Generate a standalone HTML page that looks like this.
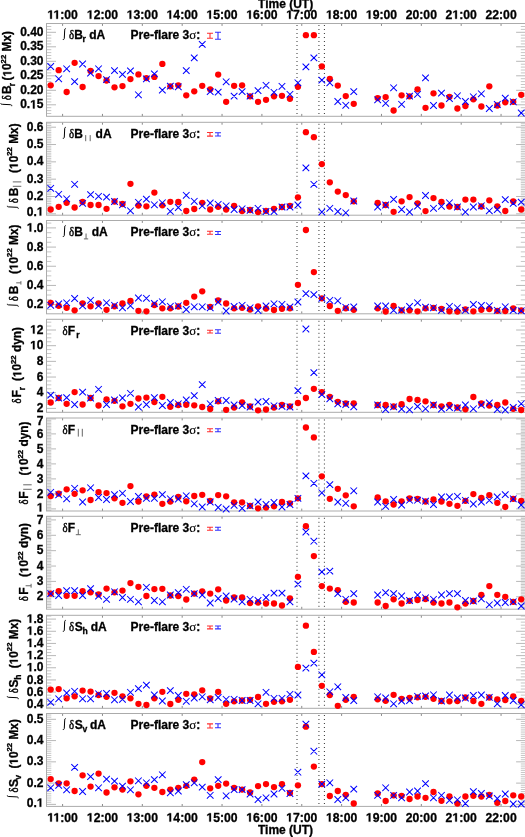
<!DOCTYPE html>
<html><head><meta charset="utf-8"><style>
html,body{margin:0;padding:0;background:#fff;width:525px;height:837px;overflow:hidden}
svg{display:block;font-family:"Liberation Sans",sans-serif;will-change:transform}
</style></head><body><svg width="525" height="837" viewBox="0 0 525 837" fill="#000"><rect x="0" y="0" width="525" height="837" fill="#fff"/><path d="M46.50 113.50h4.8M525.60 113.50h-4.8M46.50 110.60h4.8M525.60 110.60h-4.8M46.50 107.70h4.8M525.60 107.70h-4.8M46.50 101.90h4.8M525.60 101.90h-4.8M46.50 99.00h4.8M525.60 99.00h-4.8M46.50 96.10h4.8M525.60 96.10h-4.8M46.50 93.20h4.8M525.60 93.20h-4.8M46.50 87.40h4.8M525.60 87.40h-4.8M46.50 84.50h4.8M525.60 84.50h-4.8M46.50 81.60h4.8M525.60 81.60h-4.8M46.50 78.70h4.8M525.60 78.70h-4.8M46.50 72.90h4.8M525.60 72.90h-4.8M46.50 70.00h4.8M525.60 70.00h-4.8M46.50 67.10h4.8M525.60 67.10h-4.8M46.50 64.20h4.8M525.60 64.20h-4.8M46.50 58.40h4.8M525.60 58.40h-4.8M46.50 55.50h4.8M525.60 55.50h-4.8M46.50 52.60h4.8M525.60 52.60h-4.8M46.50 49.70h4.8M525.60 49.70h-4.8M46.50 43.90h4.8M525.60 43.90h-4.8M46.50 41.00h4.8M525.60 41.00h-4.8M46.50 38.10h4.8M525.60 38.10h-4.8M46.50 35.20h4.8M525.60 35.20h-4.8M46.50 29.40h4.8M525.60 29.40h-4.8M46.50 26.50h4.8M525.60 26.50h-4.8" stroke="#c0c0c0" stroke-width="0.9" fill="none"/><path d="M46.50 104.80h9.5M525.60 104.80h-9.5M46.50 90.30h9.5M525.60 90.30h-9.5M46.50 75.80h9.5M525.60 75.80h-9.5M46.50 61.30h9.5M525.60 61.30h-9.5M46.50 46.80h9.5M525.60 46.80h-9.5M46.50 32.30h9.5M525.60 32.30h-9.5" stroke="#b0b0b0" stroke-width="0.9" fill="none"/><path d="M62.60 23.50v2.4M62.60 116.30v-2.4M102.46 23.50v2.4M102.46 116.30v-2.4M142.32 23.50v2.4M142.32 116.30v-2.4M182.18 23.50v2.4M182.18 116.30v-2.4M222.04 23.50v2.4M222.04 116.30v-2.4M261.90 23.50v2.4M261.90 116.30v-2.4M301.76 23.50v2.4M301.76 116.30v-2.4M341.62 23.50v2.4M341.62 116.30v-2.4M381.48 23.50v2.4M381.48 116.30v-2.4M421.34 23.50v2.4M421.34 116.30v-2.4M461.20 23.50v2.4M461.20 116.30v-2.4M501.06 23.50v2.4M501.06 116.30v-2.4" stroke="#888" stroke-width="1" fill="none"/><rect x="46.50" y="23.50" width="479.10" height="92.80" fill="none" stroke="#ababab" stroke-width="1"/><g font-family="&quot;Liberation Sans&quot;, sans-serif" font-weight="bold" font-size="12.0" stroke="#000" stroke-width="0.30"><text x="20.14 26.82 36.83" y="108.40">0.5</text><path d="M32.95 108.40L32.95 101.54L30.97 102.78L30.97 101.49L33.04 100.14L34.60 100.14L34.60 108.40Z"/><text x="20.14 26.82 30.15 36.83" y="93.90">0.20</text><text x="20.14 26.82 30.15 36.83" y="79.40">0.25</text><text x="20.14 26.82 30.15 36.83" y="64.90">0.30</text><text x="20.14 26.82 30.15 36.83" y="50.40">0.35</text><text x="20.14 26.82 30.15 36.83" y="35.90">0.40</text></g><path d="M297.00 25.00V115.80M318.95 25.00V115.80M324.40 25.00V115.80" stroke="#333" stroke-width="1" stroke-dasharray="1 3" fill="none"/><g fill="#ff0000"><circle cx="50.70" cy="85.30" r="3.15"/><circle cx="58.68" cy="70.20" r="3.15"/><circle cx="66.65" cy="92.00" r="3.15"/><circle cx="74.62" cy="62.80" r="3.15"/><circle cx="82.60" cy="87.00" r="3.15"/><circle cx="90.58" cy="70.90" r="3.15"/><circle cx="98.55" cy="76.10" r="3.15"/><circle cx="106.53" cy="80.50" r="3.15"/><circle cx="114.50" cy="87.30" r="3.15"/><circle cx="122.47" cy="86.10" r="3.15"/><circle cx="130.45" cy="79.10" r="3.15"/><circle cx="138.43" cy="74.40" r="3.15"/><circle cx="146.40" cy="78.10" r="3.15"/><circle cx="154.38" cy="76.90" r="3.15"/><circle cx="162.35" cy="63.90" r="3.15"/><circle cx="170.32" cy="86.30" r="3.15"/><circle cx="178.30" cy="85.30" r="3.15"/><circle cx="186.27" cy="95.30" r="3.15"/><circle cx="194.25" cy="91.30" r="3.15"/><circle cx="202.23" cy="85.80" r="3.15"/><circle cx="210.20" cy="89.30" r="3.15"/><circle cx="218.18" cy="74.60" r="3.15"/><circle cx="226.15" cy="101.80" r="3.15"/><circle cx="234.12" cy="85.80" r="3.15"/><circle cx="242.10" cy="85.30" r="3.15"/><circle cx="250.07" cy="96.30" r="3.15"/><circle cx="258.05" cy="101.80" r="3.15"/><circle cx="266.02" cy="99.80" r="3.15"/><circle cx="274.00" cy="96.30" r="3.15"/><circle cx="281.97" cy="95.80" r="3.15"/><circle cx="289.95" cy="98.80" r="3.15"/><circle cx="297.93" cy="86.80" r="3.15"/><circle cx="305.90" cy="35.20" r="3.15"/><circle cx="313.88" cy="35.20" r="3.15"/><circle cx="321.85" cy="66.40" r="3.15"/><circle cx="329.82" cy="78.90" r="3.15"/><circle cx="337.80" cy="85.60" r="3.15"/><circle cx="345.77" cy="96.10" r="3.15"/><circle cx="353.75" cy="103.80" r="3.15"/><circle cx="377.67" cy="98.10" r="3.15"/><circle cx="385.65" cy="97.10" r="3.15"/><circle cx="393.62" cy="110.50" r="3.15"/><circle cx="401.60" cy="95.30" r="3.15"/><circle cx="409.57" cy="96.30" r="3.15"/><circle cx="417.55" cy="89.30" r="3.15"/><circle cx="425.52" cy="107.80" r="3.15"/><circle cx="433.50" cy="93.30" r="3.15"/><circle cx="441.47" cy="105.50" r="3.15"/><circle cx="449.45" cy="96.80" r="3.15"/><circle cx="457.42" cy="108.50" r="3.15"/><circle cx="465.40" cy="106.00" r="3.15"/><circle cx="473.37" cy="99.30" r="3.15"/><circle cx="481.35" cy="106.50" r="3.15"/><circle cx="489.32" cy="86.30" r="3.15"/><circle cx="497.30" cy="105.50" r="3.15"/><circle cx="505.27" cy="102.30" r="3.15"/><circle cx="513.25" cy="101.80" r="3.15"/><circle cx="521.23" cy="94.80" r="3.15"/></g><path d="M47.40 63.20l6.60 6.60M47.40 69.80l6.60 -6.60M55.38 75.50l6.60 6.60M55.38 82.10l6.60 -6.60M63.35 65.50l6.60 6.60M63.35 72.10l6.60 -6.60M71.33 78.30l6.60 6.60M71.33 84.90l6.60 -6.60M79.30 60.70l6.60 6.60M79.30 67.30l6.60 -6.60M87.28 69.80l6.60 6.60M87.28 76.40l6.60 -6.60M95.25 65.50l6.60 6.60M95.25 72.10l6.60 -6.60M103.23 76.30l6.60 6.60M103.23 82.90l6.60 -6.60M111.20 67.30l6.60 6.60M111.20 73.90l6.60 -6.60M119.17 71.10l6.60 6.60M119.17 77.70l6.60 -6.60M127.15 67.60l6.60 6.60M127.15 74.20l6.60 -6.60M135.12 91.50l6.60 6.60M135.12 98.10l6.60 -6.60M143.10 75.60l6.60 6.60M143.10 82.20l6.60 -6.60M151.07 70.60l6.60 6.60M151.07 77.20l6.60 -6.60M159.05 86.80l6.60 6.60M159.05 93.40l6.60 -6.60M167.02 82.80l6.60 6.60M167.02 89.40l6.60 -6.60M175.00 83.50l6.60 6.60M175.00 90.10l6.60 -6.60M182.97 67.30l6.60 6.60M182.97 73.90l6.60 -6.60M190.95 54.60l6.60 6.60M190.95 61.20l6.60 -6.60M198.93 41.10l6.60 6.60M198.93 47.70l6.60 -6.60M206.90 88.30l6.60 6.60M206.90 94.90l6.60 -6.60M214.88 88.80l6.60 6.60M214.88 95.40l6.60 -6.60M222.85 78.50l6.60 6.60M222.85 85.10l6.60 -6.60M230.82 92.80l6.60 6.60M230.82 99.40l6.60 -6.60M238.80 88.30l6.60 6.60M238.80 94.90l6.60 -6.60M246.77 92.80l6.60 6.60M246.77 99.40l6.60 -6.60M254.75 87.30l6.60 6.60M254.75 93.90l6.60 -6.60M262.72 82.00l6.60 6.60M262.72 88.60l6.60 -6.60M270.70 89.00l6.60 6.60M270.70 95.60l6.60 -6.60M278.67 83.00l6.60 6.60M278.67 89.60l6.60 -6.60M286.65 91.00l6.60 6.60M286.65 97.60l6.60 -6.60M294.62 79.50l6.60 6.60M294.62 86.10l6.60 -6.60M302.60 63.60l6.60 6.60M302.60 70.20l6.60 -6.60M310.57 54.60l6.60 6.60M310.57 61.20l6.60 -6.60M318.55 76.80l6.60 6.60M318.55 83.40l6.60 -6.60M326.52 79.50l6.60 6.60M326.52 86.10l6.60 -6.60M334.50 98.20l6.60 6.60M334.50 104.80l6.60 -6.60M342.47 102.00l6.60 6.60M342.47 108.60l6.60 -6.60M350.45 88.30l6.60 6.60M350.45 94.90l6.60 -6.60M374.37 96.50l6.60 6.60M374.37 103.10l6.60 -6.60M382.35 100.00l6.60 6.60M382.35 106.60l6.60 -6.60M390.32 84.50l6.60 6.60M390.32 91.10l6.60 -6.60M398.30 101.00l6.60 6.60M398.30 107.60l6.60 -6.60M406.27 92.80l6.60 6.60M406.27 99.40l6.60 -6.60M414.25 91.00l6.60 6.60M414.25 97.60l6.60 -6.60M422.22 74.60l6.60 6.60M422.22 81.20l6.60 -6.60M430.20 102.20l6.60 6.60M430.20 108.80l6.60 -6.60M438.17 89.80l6.60 6.60M438.17 96.40l6.60 -6.60M446.15 95.30l6.60 6.60M446.15 101.90l6.60 -6.60M454.12 92.50l6.60 6.60M454.12 99.10l6.60 -6.60M462.10 98.20l6.60 6.60M462.10 104.80l6.60 -6.60M470.07 93.50l6.60 6.60M470.07 100.10l6.60 -6.60M478.05 90.50l6.60 6.60M478.05 97.10l6.60 -6.60M486.02 105.20l6.60 6.60M486.02 111.80l6.60 -6.60M494.00 101.20l6.60 6.60M494.00 107.80l6.60 -6.60M501.97 94.80l6.60 6.60M501.97 101.40l6.60 -6.60M509.95 98.50l6.60 6.60M509.95 105.10l6.60 -6.60M517.93 109.70l6.60 6.60M517.93 116.30l6.60 -6.60" stroke="#0000ff" stroke-width="1.05" fill="none"/><path d="M46.50 212.09h4.8M525.60 212.09h-4.8M46.50 210.36h4.8M525.60 210.36h-4.8M46.50 208.63h4.8M525.60 208.63h-4.8M46.50 206.89h4.8M525.60 206.89h-4.8M46.50 205.16h4.8M525.60 205.16h-4.8M46.50 203.43h4.8M525.60 203.43h-4.8M46.50 201.70h4.8M525.60 201.70h-4.8M46.50 199.97h4.8M525.60 199.97h-4.8M46.50 198.23h4.8M525.60 198.23h-4.8M46.50 194.77h4.8M525.60 194.77h-4.8M46.50 193.03h4.8M525.60 193.03h-4.8M46.50 191.30h4.8M525.60 191.30h-4.8M46.50 189.57h4.8M525.60 189.57h-4.8M46.50 187.84h4.8M525.60 187.84h-4.8M46.50 186.10h4.8M525.60 186.10h-4.8M46.50 184.37h4.8M525.60 184.37h-4.8M46.50 182.64h4.8M525.60 182.64h-4.8M46.50 180.91h4.8M525.60 180.91h-4.8M46.50 177.44h4.8M525.60 177.44h-4.8M46.50 175.71h4.8M525.60 175.71h-4.8M46.50 173.98h4.8M525.60 173.98h-4.8M46.50 172.25h4.8M525.60 172.25h-4.8M46.50 170.51h4.8M525.60 170.51h-4.8M46.50 168.78h4.8M525.60 168.78h-4.8M46.50 167.05h4.8M525.60 167.05h-4.8M46.50 165.31h4.8M525.60 165.31h-4.8M46.50 163.58h4.8M525.60 163.58h-4.8M46.50 160.12h4.8M525.60 160.12h-4.8M46.50 158.38h4.8M525.60 158.38h-4.8M46.50 156.65h4.8M525.60 156.65h-4.8M46.50 154.92h4.8M525.60 154.92h-4.8M46.50 153.19h4.8M525.60 153.19h-4.8M46.50 151.45h4.8M525.60 151.45h-4.8M46.50 149.72h4.8M525.60 149.72h-4.8M46.50 147.99h4.8M525.60 147.99h-4.8M46.50 146.26h4.8M525.60 146.26h-4.8M46.50 142.79h4.8M525.60 142.79h-4.8M46.50 141.06h4.8M525.60 141.06h-4.8M46.50 139.33h4.8M525.60 139.33h-4.8M46.50 137.59h4.8M525.60 137.59h-4.8M46.50 135.86h4.8M525.60 135.86h-4.8M46.50 134.13h4.8M525.60 134.13h-4.8M46.50 132.40h4.8M525.60 132.40h-4.8M46.50 130.66h4.8M525.60 130.66h-4.8M46.50 128.93h4.8M525.60 128.93h-4.8M46.50 125.47h4.8M525.60 125.47h-4.8M46.50 123.73h4.8M525.60 123.73h-4.8" stroke="#c0c0c0" stroke-width="0.9" fill="none"/><path d="M46.50 213.82h9.5M525.60 213.82h-9.5M46.50 196.50h9.5M525.60 196.50h-9.5M46.50 179.18h9.5M525.60 179.18h-9.5M46.50 161.85h9.5M525.60 161.85h-9.5M46.50 144.53h9.5M525.60 144.53h-9.5M46.50 127.20h9.5M525.60 127.20h-9.5" stroke="#b0b0b0" stroke-width="0.9" fill="none"/><path d="M62.60 122.30v2.4M62.60 215.20v-2.4M102.46 122.30v2.4M102.46 215.20v-2.4M142.32 122.30v2.4M142.32 215.20v-2.4M182.18 122.30v2.4M182.18 215.20v-2.4M222.04 122.30v2.4M222.04 215.20v-2.4M261.90 122.30v2.4M261.90 215.20v-2.4M301.76 122.30v2.4M301.76 215.20v-2.4M341.62 122.30v2.4M341.62 215.20v-2.4M381.48 122.30v2.4M381.48 215.20v-2.4M421.34 122.30v2.4M421.34 215.20v-2.4M461.20 122.30v2.4M461.20 215.20v-2.4M501.06 122.30v2.4M501.06 215.20v-2.4" stroke="#888" stroke-width="1" fill="none"/><rect x="46.50" y="122.30" width="479.10" height="92.90" fill="none" stroke="#ababab" stroke-width="1"/><g font-family="&quot;Liberation Sans&quot;, sans-serif" font-weight="bold" font-size="12.0" stroke="#000" stroke-width="0.30"><text x="26.82 33.49" y="215.60">0.</text><path d="M39.63 215.60L39.63 208.74L37.65 209.98L37.65 208.69L39.71 207.34L41.27 207.34L41.27 215.60Z"/><text x="26.82 33.49 36.83" y="200.10">0.2</text><text x="26.82 33.49 36.83" y="182.78">0.3</text><text x="26.82 33.49 36.83" y="165.45">0.4</text><text x="26.82 33.49 36.83" y="148.12">0.5</text><text x="26.82 33.49 36.83" y="130.80">0.6</text></g><path d="M297.00 123.80V214.70M318.95 123.80V214.70M324.40 123.80V214.70" stroke="#333" stroke-width="1" stroke-dasharray="1 3" fill="none"/><g fill="#ff0000"><circle cx="50.70" cy="209.50" r="3.15"/><circle cx="58.68" cy="206.80" r="3.15"/><circle cx="66.65" cy="202.80" r="3.15"/><circle cx="74.62" cy="207.50" r="3.15"/><circle cx="82.60" cy="202.00" r="3.15"/><circle cx="90.58" cy="205.00" r="3.15"/><circle cx="98.55" cy="205.00" r="3.15"/><circle cx="106.53" cy="208.80" r="3.15"/><circle cx="114.50" cy="201.50" r="3.15"/><circle cx="122.47" cy="204.00" r="3.15"/><circle cx="130.45" cy="183.80" r="3.15"/><circle cx="138.43" cy="205.50" r="3.15"/><circle cx="146.40" cy="206.30" r="3.15"/><circle cx="154.38" cy="192.60" r="3.15"/><circle cx="162.35" cy="205.30" r="3.15"/><circle cx="170.32" cy="201.80" r="3.15"/><circle cx="178.30" cy="202.00" r="3.15"/><circle cx="186.27" cy="211.00" r="3.15"/><circle cx="194.25" cy="209.00" r="3.15"/><circle cx="202.23" cy="202.80" r="3.15"/><circle cx="210.20" cy="209.50" r="3.15"/><circle cx="218.18" cy="206.80" r="3.15"/><circle cx="226.15" cy="209.50" r="3.15"/><circle cx="234.12" cy="205.80" r="3.15"/><circle cx="242.10" cy="211.00" r="3.15"/><circle cx="250.07" cy="210.00" r="3.15"/><circle cx="258.05" cy="212.00" r="3.15"/><circle cx="266.02" cy="210.80" r="3.15"/><circle cx="274.00" cy="208.80" r="3.15"/><circle cx="281.97" cy="207.00" r="3.15"/><circle cx="289.95" cy="205.80" r="3.15"/><circle cx="297.93" cy="197.30" r="3.15"/><circle cx="305.90" cy="132.20" r="3.15"/><circle cx="313.88" cy="137.20" r="3.15"/><circle cx="321.85" cy="164.10" r="3.15"/><circle cx="329.82" cy="182.30" r="3.15"/><circle cx="337.80" cy="191.60" r="3.15"/><circle cx="345.77" cy="195.10" r="3.15"/><circle cx="353.75" cy="201.30" r="3.15"/><circle cx="377.67" cy="202.80" r="3.15"/><circle cx="385.65" cy="205.00" r="3.15"/><circle cx="393.62" cy="211.80" r="3.15"/><circle cx="401.60" cy="201.30" r="3.15"/><circle cx="409.57" cy="197.10" r="3.15"/><circle cx="417.55" cy="203.30" r="3.15"/><circle cx="425.52" cy="211.10" r="3.15"/><circle cx="433.50" cy="198.10" r="3.15"/><circle cx="441.47" cy="201.80" r="3.15"/><circle cx="449.45" cy="206.50" r="3.15"/><circle cx="457.42" cy="207.00" r="3.15"/><circle cx="465.40" cy="199.60" r="3.15"/><circle cx="473.37" cy="199.60" r="3.15"/><circle cx="481.35" cy="206.50" r="3.15"/><circle cx="489.32" cy="200.30" r="3.15"/><circle cx="497.30" cy="206.30" r="3.15"/><circle cx="505.27" cy="211.00" r="3.15"/><circle cx="513.25" cy="201.30" r="3.15"/><circle cx="521.23" cy="209.50" r="3.15"/></g><path d="M47.40 185.00l6.60 6.60M47.40 191.60l6.60 -6.60M55.38 191.00l6.60 6.60M55.38 197.60l6.60 -6.60M63.35 195.50l6.60 6.60M63.35 202.10l6.60 -6.60M71.33 181.00l6.60 6.60M71.33 187.60l6.60 -6.60M79.30 200.00l6.60 6.60M79.30 206.60l6.60 -6.60M87.28 191.30l6.60 6.60M87.28 197.90l6.60 -6.60M95.25 193.00l6.60 6.60M95.25 199.60l6.60 -6.60M103.23 193.80l6.60 6.60M103.23 200.40l6.60 -6.60M111.20 198.20l6.60 6.60M111.20 204.80l6.60 -6.60M119.17 201.50l6.60 6.60M119.17 208.10l6.60 -6.60M127.15 207.50l6.60 6.60M127.15 214.10l6.60 -6.60M135.12 199.00l6.60 6.60M135.12 205.60l6.60 -6.60M143.10 195.80l6.60 6.60M143.10 202.40l6.60 -6.60M151.07 201.50l6.60 6.60M151.07 208.10l6.60 -6.60M159.05 199.50l6.60 6.60M159.05 206.10l6.60 -6.60M167.02 208.00l6.60 6.60M167.02 214.60l6.60 -6.60M175.00 204.20l6.60 6.60M175.00 210.80l6.60 -6.60M182.97 192.00l6.60 6.60M182.97 198.60l6.60 -6.60M190.95 198.00l6.60 6.60M190.95 204.60l6.60 -6.60M198.93 202.50l6.60 6.60M198.93 209.10l6.60 -6.60M206.90 199.70l6.60 6.60M206.90 206.30l6.60 -6.60M214.88 201.00l6.60 6.60M214.88 207.60l6.60 -6.60M222.85 202.50l6.60 6.60M222.85 209.10l6.60 -6.60M230.82 206.20l6.60 6.60M230.82 212.80l6.60 -6.60M238.80 205.50l6.60 6.60M238.80 212.10l6.60 -6.60M246.77 207.00l6.60 6.60M246.77 213.60l6.60 -6.60M254.75 205.00l6.60 6.60M254.75 211.60l6.60 -6.60M262.72 208.20l6.60 6.60M262.72 214.80l6.60 -6.60M270.70 208.20l6.60 6.60M270.70 214.80l6.60 -6.60M278.67 203.70l6.60 6.60M278.67 210.30l6.60 -6.60M286.65 203.70l6.60 6.60M286.65 210.30l6.60 -6.60M294.62 201.70l6.60 6.60M294.62 208.30l6.60 -6.60M302.60 164.60l6.60 6.60M302.60 171.20l6.60 -6.60M310.57 181.00l6.60 6.60M310.57 187.60l6.60 -6.60M318.55 208.70l6.60 6.60M318.55 215.30l6.60 -6.60M326.52 205.00l6.60 6.60M326.52 211.60l6.60 -6.60M334.50 208.20l6.60 6.60M334.50 214.80l6.60 -6.60M342.47 209.50l6.60 6.60M342.47 216.10l6.60 -6.60M350.45 197.70l6.60 6.60M350.45 204.30l6.60 -6.60M374.37 203.70l6.60 6.60M374.37 210.30l6.60 -6.60M382.35 201.70l6.60 6.60M382.35 208.30l6.60 -6.60M390.32 196.10l6.60 6.60M390.32 202.70l6.60 -6.60M398.30 206.20l6.60 6.60M398.30 212.80l6.60 -6.60M406.27 208.70l6.60 6.60M406.27 215.30l6.60 -6.60M414.25 202.70l6.60 6.60M414.25 209.30l6.60 -6.60M422.22 192.20l6.60 6.60M422.22 198.80l6.60 -6.60M430.20 205.00l6.60 6.60M430.20 211.60l6.60 -6.60M438.17 203.00l6.60 6.60M438.17 209.60l6.60 -6.60M446.15 199.50l6.60 6.60M446.15 206.10l6.60 -6.60M454.12 203.70l6.60 6.60M454.12 210.30l6.60 -6.60M462.10 208.70l6.60 6.60M462.10 215.30l6.60 -6.60M470.07 203.70l6.60 6.60M470.07 210.30l6.60 -6.60M478.05 202.50l6.60 6.60M478.05 209.10l6.60 -6.60M486.02 207.50l6.60 6.60M486.02 214.10l6.60 -6.60M494.00 206.20l6.60 6.60M494.00 212.80l6.60 -6.60M501.97 196.30l6.60 6.60M501.97 202.90l6.60 -6.60M509.95 200.00l6.60 6.60M509.95 206.60l6.60 -6.60M517.93 198.80l6.60 6.60M517.93 205.40l6.60 -6.60" stroke="#0000ff" stroke-width="1.05" fill="none"/><path d="M46.50 309.42h4.8M525.60 309.42h-4.8M46.50 299.83h4.8M525.60 299.83h-4.8M46.50 295.03h4.8M525.60 295.03h-4.8M46.50 290.24h4.8M525.60 290.24h-4.8M46.50 280.64h4.8M525.60 280.64h-4.8M46.50 275.85h4.8M525.60 275.85h-4.8M46.50 271.06h4.8M525.60 271.06h-4.8M46.50 261.47h4.8M525.60 261.47h-4.8M46.50 256.67h4.8M525.60 256.67h-4.8M46.50 251.88h4.8M525.60 251.88h-4.8M46.50 242.28h4.8M525.60 242.28h-4.8M46.50 237.49h4.8M525.60 237.49h-4.8M46.50 232.69h4.8M525.60 232.69h-4.8M46.50 223.10h4.8M525.60 223.10h-4.8" stroke="#c0c0c0" stroke-width="0.9" fill="none"/><path d="M46.50 304.62h9.5M525.60 304.62h-9.5M46.50 285.44h9.5M525.60 285.44h-9.5M46.50 266.26h9.5M525.60 266.26h-9.5M46.50 247.08h9.5M525.60 247.08h-9.5M46.50 227.90h9.5M525.60 227.90h-9.5" stroke="#b0b0b0" stroke-width="0.9" fill="none"/><path d="M62.60 220.50v2.4M62.60 313.80v-2.4M102.46 220.50v2.4M102.46 313.80v-2.4M142.32 220.50v2.4M142.32 313.80v-2.4M182.18 220.50v2.4M182.18 313.80v-2.4M222.04 220.50v2.4M222.04 313.80v-2.4M261.90 220.50v2.4M261.90 313.80v-2.4M301.76 220.50v2.4M301.76 313.80v-2.4M341.62 220.50v2.4M341.62 313.80v-2.4M381.48 220.50v2.4M381.48 313.80v-2.4M421.34 220.50v2.4M421.34 313.80v-2.4M461.20 220.50v2.4M461.20 313.80v-2.4M501.06 220.50v2.4M501.06 313.80v-2.4" stroke="#888" stroke-width="1" fill="none"/><rect x="46.50" y="220.50" width="479.10" height="93.30" fill="none" stroke="#ababab" stroke-width="1"/><g font-family="&quot;Liberation Sans&quot;, sans-serif" font-weight="bold" font-size="12.0" stroke="#000" stroke-width="0.30"><text x="26.82 33.49 36.83" y="308.22">0.2</text><text x="26.82 33.49 36.83" y="289.04">0.4</text><text x="26.82 33.49 36.83" y="269.86">0.6</text><text x="26.82 33.49 36.83" y="250.68">0.8</text><text x="33.49 36.83" y="231.50">.0</text><path d="M29.62 231.50L29.62 224.64L27.64 225.88L27.64 224.59L29.71 223.24L31.27 223.24L31.27 231.50Z"/></g><path d="M297.00 222.00V313.30M318.95 222.00V313.30M324.40 222.00V313.30" stroke="#333" stroke-width="1" stroke-dasharray="1 3" fill="none"/><g fill="#ff0000"><circle cx="50.70" cy="303.00" r="3.15"/><circle cx="58.68" cy="305.80" r="3.15"/><circle cx="66.65" cy="307.80" r="3.15"/><circle cx="74.62" cy="310.30" r="3.15"/><circle cx="82.60" cy="303.30" r="3.15"/><circle cx="90.58" cy="306.30" r="3.15"/><circle cx="98.55" cy="303.30" r="3.15"/><circle cx="106.53" cy="309.80" r="3.15"/><circle cx="114.50" cy="306.30" r="3.15"/><circle cx="122.47" cy="303.50" r="3.15"/><circle cx="130.45" cy="300.80" r="3.15"/><circle cx="138.43" cy="310.80" r="3.15"/><circle cx="146.40" cy="311.30" r="3.15"/><circle cx="154.38" cy="305.00" r="3.15"/><circle cx="162.35" cy="308.30" r="3.15"/><circle cx="170.32" cy="308.30" r="3.15"/><circle cx="178.30" cy="306.50" r="3.15"/><circle cx="186.27" cy="302.80" r="3.15"/><circle cx="194.25" cy="296.60" r="3.15"/><circle cx="202.23" cy="291.30" r="3.15"/><circle cx="210.20" cy="306.80" r="3.15"/><circle cx="218.18" cy="300.30" r="3.15"/><circle cx="226.15" cy="303.50" r="3.15"/><circle cx="234.12" cy="308.30" r="3.15"/><circle cx="242.10" cy="307.80" r="3.15"/><circle cx="250.07" cy="309.50" r="3.15"/><circle cx="258.05" cy="306.30" r="3.15"/><circle cx="266.02" cy="308.50" r="3.15"/><circle cx="274.00" cy="310.00" r="3.15"/><circle cx="281.97" cy="308.80" r="3.15"/><circle cx="289.95" cy="308.30" r="3.15"/><circle cx="297.93" cy="284.80" r="3.15"/><circle cx="305.90" cy="230.00" r="3.15"/><circle cx="313.88" cy="272.10" r="3.15"/><circle cx="321.85" cy="298.30" r="3.15"/><circle cx="329.82" cy="306.00" r="3.15"/><circle cx="337.80" cy="310.80" r="3.15"/><circle cx="345.77" cy="308.30" r="3.15"/><circle cx="353.75" cy="309.80" r="3.15"/><circle cx="377.67" cy="308.30" r="3.15"/><circle cx="385.65" cy="311.50" r="3.15"/><circle cx="393.62" cy="305.80" r="3.15"/><circle cx="401.60" cy="310.30" r="3.15"/><circle cx="409.57" cy="310.30" r="3.15"/><circle cx="417.55" cy="311.30" r="3.15"/><circle cx="425.52" cy="308.30" r="3.15"/><circle cx="433.50" cy="307.80" r="3.15"/><circle cx="441.47" cy="309.00" r="3.15"/><circle cx="449.45" cy="311.30" r="3.15"/><circle cx="457.42" cy="311.50" r="3.15"/><circle cx="465.40" cy="309.30" r="3.15"/><circle cx="473.37" cy="311.30" r="3.15"/><circle cx="481.35" cy="309.80" r="3.15"/><circle cx="489.32" cy="309.00" r="3.15"/><circle cx="497.30" cy="310.80" r="3.15"/><circle cx="505.27" cy="311.00" r="3.15"/><circle cx="513.25" cy="308.30" r="3.15"/><circle cx="521.23" cy="310.30" r="3.15"/></g><path d="M47.40 302.00l6.60 6.60M47.40 308.60l6.60 -6.60M55.38 300.70l6.60 6.60M55.38 307.30l6.60 -6.60M63.35 299.50l6.60 6.60M63.35 306.10l6.60 -6.60M71.33 295.20l6.60 6.60M71.33 301.80l6.60 -6.60M79.30 302.50l6.60 6.60M79.30 309.10l6.60 -6.60M87.28 297.00l6.60 6.60M87.28 303.60l6.60 -6.60M95.25 302.50l6.60 6.60M95.25 309.10l6.60 -6.60M103.23 299.50l6.60 6.60M103.23 306.10l6.60 -6.60M111.20 302.00l6.60 6.60M111.20 308.60l6.60 -6.60M119.17 304.50l6.60 6.60M119.17 311.10l6.60 -6.60M127.15 302.50l6.60 6.60M127.15 309.10l6.60 -6.60M135.12 294.70l6.60 6.60M135.12 301.30l6.60 -6.60M143.10 295.00l6.60 6.60M143.10 301.60l6.60 -6.60M151.07 300.20l6.60 6.60M151.07 306.80l6.60 -6.60M159.05 298.50l6.60 6.60M159.05 305.10l6.60 -6.60M167.02 303.00l6.60 6.60M167.02 309.60l6.60 -6.60M175.00 302.50l6.60 6.60M175.00 309.10l6.60 -6.60M182.97 306.20l6.60 6.60M182.97 312.80l6.60 -6.60M190.95 303.50l6.60 6.60M190.95 310.10l6.60 -6.60M198.93 303.50l6.60 6.60M198.93 310.10l6.60 -6.60M206.90 304.50l6.60 6.60M206.90 311.10l6.60 -6.60M214.88 298.70l6.60 6.60M214.88 305.30l6.60 -6.60M222.85 307.70l6.60 6.60M222.85 314.30l6.60 -6.60M230.82 303.20l6.60 6.60M230.82 309.80l6.60 -6.60M238.80 302.00l6.60 6.60M238.80 308.60l6.60 -6.60M246.77 304.50l6.60 6.60M246.77 311.10l6.60 -6.60M254.75 307.20l6.60 6.60M254.75 313.80l6.60 -6.60M262.72 302.70l6.60 6.60M262.72 309.30l6.60 -6.60M270.70 300.50l6.60 6.60M270.70 307.10l6.60 -6.60M278.67 301.00l6.60 6.60M278.67 307.60l6.60 -6.60M286.65 303.70l6.60 6.60M286.65 310.30l6.60 -6.60M294.62 298.70l6.60 6.60M294.62 305.30l6.60 -6.60M302.60 290.30l6.60 6.60M302.60 296.90l6.60 -6.60M310.57 291.30l6.60 6.60M310.57 297.90l6.60 -6.60M318.55 295.00l6.60 6.60M318.55 301.60l6.60 -6.60M326.52 297.00l6.60 6.60M326.52 303.60l6.60 -6.60M334.50 297.50l6.60 6.60M334.50 304.10l6.60 -6.60M342.47 304.00l6.60 6.60M342.47 310.60l6.60 -6.60M350.45 303.70l6.60 6.60M350.45 310.30l6.60 -6.60M374.37 302.70l6.60 6.60M374.37 309.30l6.60 -6.60M382.35 302.70l6.60 6.60M382.35 309.30l6.60 -6.60M390.32 307.00l6.60 6.60M390.32 313.60l6.60 -6.60M398.30 306.70l6.60 6.60M398.30 313.30l6.60 -6.60M406.27 303.20l6.60 6.60M406.27 309.80l6.60 -6.60M414.25 299.50l6.60 6.60M414.25 306.10l6.60 -6.60M422.22 303.90l6.60 6.60M422.22 310.50l6.60 -6.60M430.20 304.50l6.60 6.60M430.20 311.10l6.60 -6.60M438.17 307.00l6.60 6.60M438.17 313.60l6.60 -6.60M446.15 303.00l6.60 6.60M446.15 309.60l6.60 -6.60M454.12 304.50l6.60 6.60M454.12 311.10l6.60 -6.60M462.10 307.00l6.60 6.60M462.10 313.60l6.60 -6.60M470.07 301.20l6.60 6.60M470.07 307.80l6.60 -6.60M478.05 302.20l6.60 6.60M478.05 308.80l6.60 -6.60M486.02 302.50l6.60 6.60M486.02 309.10l6.60 -6.60M494.00 307.00l6.60 6.60M494.00 313.60l6.60 -6.60M501.97 303.50l6.60 6.60M501.97 310.10l6.60 -6.60M509.95 307.00l6.60 6.60M509.95 313.60l6.60 -6.60M517.93 307.50l6.60 6.60M517.93 314.10l6.60 -6.60" stroke="#0000ff" stroke-width="1.05" fill="none"/><path d="M46.50 404.48h4.8M525.60 404.48h-4.8M46.50 400.56h4.8M525.60 400.56h-4.8M46.50 396.64h4.8M525.60 396.64h-4.8M46.50 388.80h4.8M525.60 388.80h-4.8M46.50 384.88h4.8M525.60 384.88h-4.8M46.50 380.96h4.8M525.60 380.96h-4.8M46.50 373.12h4.8M525.60 373.12h-4.8M46.50 369.20h4.8M525.60 369.20h-4.8M46.50 365.28h4.8M525.60 365.28h-4.8M46.50 357.44h4.8M525.60 357.44h-4.8M46.50 353.52h4.8M525.60 353.52h-4.8M46.50 349.60h4.8M525.60 349.60h-4.8M46.50 341.76h4.8M525.60 341.76h-4.8M46.50 337.84h4.8M525.60 337.84h-4.8M46.50 333.92h4.8M525.60 333.92h-4.8M46.50 326.08h4.8M525.60 326.08h-4.8M46.50 322.16h4.8M525.60 322.16h-4.8" stroke="#c0c0c0" stroke-width="0.9" fill="none"/><path d="M46.50 408.40h9.5M525.60 408.40h-9.5M46.50 392.72h9.5M525.60 392.72h-9.5M46.50 377.04h9.5M525.60 377.04h-9.5M46.50 361.36h9.5M525.60 361.36h-9.5M46.50 345.68h9.5M525.60 345.68h-9.5M46.50 330.00h9.5M525.60 330.00h-9.5" stroke="#b0b0b0" stroke-width="0.9" fill="none"/><path d="M62.60 319.30v2.4M62.60 412.30v-2.4M102.46 319.30v2.4M102.46 412.30v-2.4M142.32 319.30v2.4M142.32 412.30v-2.4M182.18 319.30v2.4M182.18 412.30v-2.4M222.04 319.30v2.4M222.04 412.30v-2.4M261.90 319.30v2.4M261.90 412.30v-2.4M301.76 319.30v2.4M301.76 412.30v-2.4M341.62 319.30v2.4M341.62 412.30v-2.4M381.48 319.30v2.4M381.48 412.30v-2.4M421.34 319.30v2.4M421.34 412.30v-2.4M461.20 319.30v2.4M461.20 412.30v-2.4M501.06 319.30v2.4M501.06 412.30v-2.4" stroke="#888" stroke-width="1" fill="none"/><rect x="46.50" y="319.30" width="479.10" height="93.00" fill="none" stroke="#ababab" stroke-width="1"/><g font-family="&quot;Liberation Sans&quot;, sans-serif" font-weight="bold" font-size="12.0" stroke="#000" stroke-width="0.30"><text x="36.83" y="412.00">2</text><text x="36.83" y="396.32">4</text><text x="36.83" y="380.64">6</text><text x="36.83" y="364.96">8</text><text x="36.83" y="349.28">0</text><path d="M32.95 349.28L32.95 342.42L30.97 343.66L30.97 342.37L33.04 341.02L34.60 341.02L34.60 349.28Z"/><text x="36.83" y="333.60">2</text><path d="M32.95 333.60L32.95 326.74L30.97 327.98L30.97 326.69L33.04 325.34L34.60 325.34L34.60 333.60Z"/></g><path d="M297.00 320.80V411.80M318.95 320.80V411.80M324.40 320.80V411.80" stroke="#333" stroke-width="1" stroke-dasharray="1 3" fill="none"/><g fill="#ff0000"><circle cx="50.70" cy="402.50" r="3.15"/><circle cx="58.68" cy="398.00" r="3.15"/><circle cx="66.65" cy="403.80" r="3.15"/><circle cx="74.62" cy="392.10" r="3.15"/><circle cx="82.60" cy="404.50" r="3.15"/><circle cx="90.58" cy="398.00" r="3.15"/><circle cx="98.55" cy="405.50" r="3.15"/><circle cx="106.53" cy="399.30" r="3.15"/><circle cx="114.50" cy="400.80" r="3.15"/><circle cx="122.47" cy="406.30" r="3.15"/><circle cx="130.45" cy="403.80" r="3.15"/><circle cx="138.43" cy="398.50" r="3.15"/><circle cx="146.40" cy="397.60" r="3.15"/><circle cx="154.38" cy="402.00" r="3.15"/><circle cx="162.35" cy="396.80" r="3.15"/><circle cx="170.32" cy="406.80" r="3.15"/><circle cx="178.30" cy="405.00" r="3.15"/><circle cx="186.27" cy="404.80" r="3.15"/><circle cx="194.25" cy="405.30" r="3.15"/><circle cx="202.23" cy="407.00" r="3.15"/><circle cx="210.20" cy="409.00" r="3.15"/><circle cx="218.18" cy="401.30" r="3.15"/><circle cx="226.15" cy="409.80" r="3.15"/><circle cx="234.12" cy="407.50" r="3.15"/><circle cx="242.10" cy="402.50" r="3.15"/><circle cx="250.07" cy="406.50" r="3.15"/><circle cx="258.05" cy="410.30" r="3.15"/><circle cx="266.02" cy="409.50" r="3.15"/><circle cx="274.00" cy="407.50" r="3.15"/><circle cx="281.97" cy="405.00" r="3.15"/><circle cx="289.95" cy="406.30" r="3.15"/><circle cx="297.93" cy="403.00" r="3.15"/><circle cx="305.90" cy="398.00" r="3.15"/><circle cx="313.88" cy="388.80" r="3.15"/><circle cx="321.85" cy="392.10" r="3.15"/><circle cx="329.82" cy="396.80" r="3.15"/><circle cx="337.80" cy="401.80" r="3.15"/><circle cx="345.77" cy="403.50" r="3.15"/><circle cx="353.75" cy="403.50" r="3.15"/><circle cx="377.67" cy="405.00" r="3.15"/><circle cx="385.65" cy="405.00" r="3.15"/><circle cx="393.62" cy="406.50" r="3.15"/><circle cx="401.60" cy="404.20" r="3.15"/><circle cx="409.57" cy="399.00" r="3.15"/><circle cx="417.55" cy="400.00" r="3.15"/><circle cx="425.52" cy="401.30" r="3.15"/><circle cx="433.50" cy="405.00" r="3.15"/><circle cx="441.47" cy="406.30" r="3.15"/><circle cx="449.45" cy="405.00" r="3.15"/><circle cx="457.42" cy="407.50" r="3.15"/><circle cx="465.40" cy="409.30" r="3.15"/><circle cx="473.37" cy="397.00" r="3.15"/><circle cx="481.35" cy="403.50" r="3.15"/><circle cx="489.32" cy="405.50" r="3.15"/><circle cx="497.30" cy="405.00" r="3.15"/><circle cx="505.27" cy="402.50" r="3.15"/><circle cx="513.25" cy="408.80" r="3.15"/><circle cx="521.23" cy="410.00" r="3.15"/></g><path d="M47.40 391.80l6.60 6.60M47.40 398.40l6.60 -6.60M55.38 394.70l6.60 6.60M55.38 401.30l6.60 -6.60M63.35 394.30l6.60 6.60M63.35 400.90l6.60 -6.60M71.33 401.20l6.60 6.60M71.33 407.80l6.60 -6.60M79.30 388.80l6.60 6.60M79.30 395.40l6.60 -6.60M87.28 394.70l6.60 6.60M87.28 401.30l6.60 -6.60M95.25 386.00l6.60 6.60M95.25 392.60l6.60 -6.60M103.23 401.20l6.60 6.60M103.23 407.80l6.60 -6.60M111.20 396.70l6.60 6.60M111.20 403.30l6.60 -6.60M119.17 394.70l6.60 6.60M119.17 401.30l6.60 -6.60M127.15 390.00l6.60 6.60M127.15 396.60l6.60 -6.60M135.12 403.70l6.60 6.60M135.12 410.30l6.60 -6.60M143.10 401.20l6.60 6.60M143.10 407.80l6.60 -6.60M151.07 394.30l6.60 6.60M151.07 400.90l6.60 -6.60M159.05 402.20l6.60 6.60M159.05 408.80l6.60 -6.60M167.02 399.20l6.60 6.60M167.02 405.80l6.60 -6.60M175.00 400.50l6.60 6.60M175.00 407.10l6.60 -6.60M182.97 396.70l6.60 6.60M182.97 403.30l6.60 -6.60M190.95 392.30l6.60 6.60M190.95 398.90l6.60 -6.60M198.93 381.30l6.60 6.60M198.93 387.90l6.60 -6.60M206.90 400.50l6.60 6.60M206.90 407.10l6.60 -6.60M214.88 397.20l6.60 6.60M214.88 403.80l6.60 -6.60M222.85 397.20l6.60 6.60M222.85 403.80l6.60 -6.60M230.82 401.70l6.60 6.60M230.82 408.30l6.60 -6.60M238.80 402.20l6.60 6.60M238.80 408.80l6.60 -6.60M246.77 403.70l6.60 6.60M246.77 410.30l6.60 -6.60M254.75 398.70l6.60 6.60M254.75 405.30l6.60 -6.60M262.72 398.20l6.60 6.60M262.72 404.80l6.60 -6.60M270.70 402.50l6.60 6.60M270.70 409.10l6.60 -6.60M278.67 403.00l6.60 6.60M278.67 409.60l6.60 -6.60M286.65 403.70l6.60 6.60M286.65 410.30l6.60 -6.60M294.62 387.30l6.60 6.60M294.62 393.90l6.60 -6.60M302.60 325.70l6.60 6.60M302.60 332.30l6.60 -6.60M310.57 369.30l6.60 6.60M310.57 375.90l6.60 -6.60M318.55 391.30l6.60 6.60M318.55 397.90l6.60 -6.60M326.52 395.50l6.60 6.60M326.52 402.10l6.60 -6.60M334.50 400.50l6.60 6.60M334.50 407.10l6.60 -6.60M342.47 401.20l6.60 6.60M342.47 407.80l6.60 -6.60M350.45 403.50l6.60 6.60M350.45 410.10l6.60 -6.60M374.37 401.70l6.60 6.60M374.37 408.30l6.60 -6.60M382.35 406.20l6.60 6.60M382.35 412.80l6.60 -6.60M390.32 403.50l6.60 6.60M390.32 410.10l6.60 -6.60M398.30 405.70l6.60 6.60M398.30 412.30l6.60 -6.60M406.27 406.50l6.60 6.60M406.27 413.10l6.60 -6.60M414.25 403.10l6.60 6.60M414.25 409.70l6.60 -6.60M422.22 405.50l6.60 6.60M422.22 412.10l6.60 -6.60M430.20 401.70l6.60 6.60M430.20 408.30l6.60 -6.60M438.17 405.70l6.60 6.60M438.17 412.30l6.60 -6.60M446.15 404.20l6.60 6.60M446.15 410.80l6.60 -6.60M454.12 404.70l6.60 6.60M454.12 411.30l6.60 -6.60M462.10 401.70l6.60 6.60M462.10 408.30l6.60 -6.60M470.07 405.50l6.60 6.60M470.07 412.10l6.60 -6.60M478.05 401.70l6.60 6.60M478.05 408.30l6.60 -6.60M486.02 399.70l6.60 6.60M486.02 406.30l6.60 -6.60M494.00 406.20l6.60 6.60M494.00 412.80l6.60 -6.60M501.97 406.70l6.60 6.60M501.97 413.30l6.60 -6.60M509.95 404.20l6.60 6.60M509.95 410.80l6.60 -6.60M517.93 400.50l6.60 6.60M517.93 407.10l6.60 -6.60" stroke="#0000ff" stroke-width="1.05" fill="none"/><path d="M46.50 510.40h4.8M525.60 510.40h-4.8M46.50 507.40h4.8M525.60 507.40h-4.8M46.50 505.90h4.8M525.60 505.90h-4.8M46.50 504.40h4.8M525.60 504.40h-4.8M46.50 502.90h4.8M525.60 502.90h-4.8M46.50 501.40h4.8M525.60 501.40h-4.8M46.50 499.90h4.8M525.60 499.90h-4.8M46.50 498.40h4.8M525.60 498.40h-4.8M46.50 496.90h4.8M525.60 496.90h-4.8M46.50 495.40h4.8M525.60 495.40h-4.8M46.50 492.40h4.8M525.60 492.40h-4.8M46.50 490.90h4.8M525.60 490.90h-4.8M46.50 489.40h4.8M525.60 489.40h-4.8M46.50 487.90h4.8M525.60 487.90h-4.8M46.50 486.40h4.8M525.60 486.40h-4.8M46.50 484.90h4.8M525.60 484.90h-4.8M46.50 483.40h4.8M525.60 483.40h-4.8M46.50 481.90h4.8M525.60 481.90h-4.8M46.50 480.40h4.8M525.60 480.40h-4.8M46.50 477.40h4.8M525.60 477.40h-4.8M46.50 475.90h4.8M525.60 475.90h-4.8M46.50 474.40h4.8M525.60 474.40h-4.8M46.50 472.90h4.8M525.60 472.90h-4.8M46.50 471.40h4.8M525.60 471.40h-4.8M46.50 469.90h4.8M525.60 469.90h-4.8M46.50 468.40h4.8M525.60 468.40h-4.8M46.50 466.90h4.8M525.60 466.90h-4.8M46.50 465.40h4.8M525.60 465.40h-4.8M46.50 462.40h4.8M525.60 462.40h-4.8M46.50 460.90h4.8M525.60 460.90h-4.8M46.50 459.40h4.8M525.60 459.40h-4.8M46.50 457.90h4.8M525.60 457.90h-4.8M46.50 456.40h4.8M525.60 456.40h-4.8M46.50 454.90h4.8M525.60 454.90h-4.8M46.50 453.40h4.8M525.60 453.40h-4.8M46.50 451.90h4.8M525.60 451.90h-4.8M46.50 450.40h4.8M525.60 450.40h-4.8M46.50 447.40h4.8M525.60 447.40h-4.8M46.50 445.90h4.8M525.60 445.90h-4.8M46.50 444.40h4.8M525.60 444.40h-4.8M46.50 442.90h4.8M525.60 442.90h-4.8M46.50 441.40h4.8M525.60 441.40h-4.8M46.50 439.90h4.8M525.60 439.90h-4.8M46.50 438.40h4.8M525.60 438.40h-4.8M46.50 436.90h4.8M525.60 436.90h-4.8M46.50 435.40h4.8M525.60 435.40h-4.8M46.50 432.40h4.8M525.60 432.40h-4.8M46.50 430.90h4.8M525.60 430.90h-4.8M46.50 429.40h4.8M525.60 429.40h-4.8M46.50 427.90h4.8M525.60 427.90h-4.8M46.50 426.40h4.8M525.60 426.40h-4.8M46.50 424.90h4.8M525.60 424.90h-4.8M46.50 423.40h4.8M525.60 423.40h-4.8M46.50 421.90h4.8M525.60 421.90h-4.8M46.50 420.40h4.8M525.60 420.40h-4.8" stroke="#c0c0c0" stroke-width="0.9" fill="none"/><path d="M46.50 508.90h9.5M525.60 508.90h-9.5M46.50 493.90h9.5M525.60 493.90h-9.5M46.50 478.90h9.5M525.60 478.90h-9.5M46.50 463.90h9.5M525.60 463.90h-9.5M46.50 448.90h9.5M525.60 448.90h-9.5M46.50 433.90h9.5M525.60 433.90h-9.5M46.50 418.90h9.5M525.60 418.90h-9.5" stroke="#b0b0b0" stroke-width="0.9" fill="none"/><path d="M62.60 418.00v2.4M62.60 511.00v-2.4M102.46 418.00v2.4M102.46 511.00v-2.4M142.32 418.00v2.4M142.32 511.00v-2.4M182.18 418.00v2.4M182.18 511.00v-2.4M222.04 418.00v2.4M222.04 511.00v-2.4M261.90 418.00v2.4M261.90 511.00v-2.4M301.76 418.00v2.4M301.76 511.00v-2.4M341.62 418.00v2.4M341.62 511.00v-2.4M381.48 418.00v2.4M381.48 511.00v-2.4M421.34 418.00v2.4M421.34 511.00v-2.4M461.20 418.00v2.4M461.20 511.00v-2.4M501.06 418.00v2.4M501.06 511.00v-2.4" stroke="#888" stroke-width="1" fill="none"/><rect x="46.50" y="418.00" width="479.10" height="93.00" fill="none" stroke="#ababab" stroke-width="1"/><g font-family="&quot;Liberation Sans&quot;, sans-serif" font-weight="bold" font-size="12.0" stroke="#000" stroke-width="0.30"><path d="M39.63 511.40L39.63 504.54L37.65 505.78L37.65 504.49L39.71 503.14L41.27 503.14L41.27 511.40Z"/><text x="36.83" y="497.50">2</text><text x="36.83" y="482.50">3</text><text x="36.83" y="467.50">4</text><text x="36.83" y="452.50">5</text><text x="36.83" y="437.50">6</text><text x="36.83" y="424.90">7</text></g><path d="M297.00 419.50V510.50M318.95 419.50V510.50M324.40 419.50V510.50" stroke="#333" stroke-width="1" stroke-dasharray="1 3" fill="none"/><g fill="#ff0000"><circle cx="50.70" cy="496.00" r="3.15"/><circle cx="58.68" cy="493.60" r="3.15"/><circle cx="66.65" cy="489.30" r="3.15"/><circle cx="74.62" cy="493.80" r="3.15"/><circle cx="82.60" cy="490.30" r="3.15"/><circle cx="90.58" cy="500.00" r="3.15"/><circle cx="98.55" cy="492.10" r="3.15"/><circle cx="106.53" cy="493.10" r="3.15"/><circle cx="114.50" cy="498.30" r="3.15"/><circle cx="122.47" cy="502.80" r="3.15"/><circle cx="130.45" cy="486.10" r="3.15"/><circle cx="138.43" cy="501.50" r="3.15"/><circle cx="146.40" cy="496.30" r="3.15"/><circle cx="154.38" cy="494.60" r="3.15"/><circle cx="162.35" cy="503.80" r="3.15"/><circle cx="170.32" cy="501.50" r="3.15"/><circle cx="178.30" cy="497.00" r="3.15"/><circle cx="186.27" cy="501.30" r="3.15"/><circle cx="194.25" cy="496.00" r="3.15"/><circle cx="202.23" cy="494.80" r="3.15"/><circle cx="210.20" cy="500.80" r="3.15"/><circle cx="218.18" cy="495.10" r="3.15"/><circle cx="226.15" cy="496.30" r="3.15"/><circle cx="234.12" cy="502.50" r="3.15"/><circle cx="242.10" cy="502.30" r="3.15"/><circle cx="250.07" cy="505.80" r="3.15"/><circle cx="258.05" cy="508.30" r="3.15"/><circle cx="266.02" cy="507.50" r="3.15"/><circle cx="274.00" cy="506.30" r="3.15"/><circle cx="281.97" cy="502.00" r="3.15"/><circle cx="289.95" cy="503.30" r="3.15"/><circle cx="297.93" cy="498.30" r="3.15"/><circle cx="305.90" cy="427.50" r="3.15"/><circle cx="313.88" cy="437.40" r="3.15"/><circle cx="321.85" cy="476.30" r="3.15"/><circle cx="329.82" cy="498.80" r="3.15"/><circle cx="337.80" cy="488.80" r="3.15"/><circle cx="345.77" cy="495.30" r="3.15"/><circle cx="353.75" cy="506.30" r="3.15"/><circle cx="377.67" cy="497.50" r="3.15"/><circle cx="385.65" cy="501.30" r="3.15"/><circle cx="393.62" cy="504.50" r="3.15"/><circle cx="401.60" cy="501.30" r="3.15"/><circle cx="409.57" cy="498.50" r="3.15"/><circle cx="417.55" cy="498.80" r="3.15"/><circle cx="425.52" cy="501.50" r="3.15"/><circle cx="433.50" cy="499.50" r="3.15"/><circle cx="441.47" cy="501.50" r="3.15"/><circle cx="449.45" cy="503.80" r="3.15"/><circle cx="457.42" cy="505.80" r="3.15"/><circle cx="465.40" cy="500.80" r="3.15"/><circle cx="473.37" cy="494.10" r="3.15"/><circle cx="481.35" cy="497.80" r="3.15"/><circle cx="489.32" cy="495.10" r="3.15"/><circle cx="497.30" cy="502.80" r="3.15"/><circle cx="505.27" cy="507.00" r="3.15"/><circle cx="513.25" cy="498.80" r="3.15"/><circle cx="521.23" cy="500.80" r="3.15"/></g><path d="M47.40 489.00l6.60 6.60M47.40 495.60l6.60 -6.60M55.38 491.50l6.60 6.60M55.38 498.10l6.60 -6.60M63.35 495.50l6.60 6.60M63.35 502.10l6.60 -6.60M71.33 485.00l6.60 6.60M71.33 491.60l6.60 -6.60M79.30 498.70l6.60 6.60M79.30 505.30l6.60 -6.60M87.28 484.50l6.60 6.60M87.28 491.10l6.60 -6.60M95.25 494.20l6.60 6.60M95.25 500.80l6.60 -6.60M103.23 496.20l6.60 6.60M103.23 502.80l6.60 -6.60M111.20 491.30l6.60 6.60M111.20 497.90l6.60 -6.60M119.17 490.00l6.60 6.60M119.17 496.60l6.60 -6.60M127.15 498.20l6.60 6.60M127.15 504.80l6.60 -6.60M135.12 493.20l6.60 6.60M135.12 499.80l6.60 -6.60M143.10 495.00l6.60 6.60M143.10 501.60l6.60 -6.60M151.07 495.00l6.60 6.60M151.07 501.60l6.60 -6.60M159.05 491.30l6.60 6.60M159.05 497.90l6.60 -6.60M167.02 495.50l6.60 6.60M167.02 502.10l6.60 -6.60M175.00 495.70l6.60 6.60M175.00 502.30l6.60 -6.60M182.97 492.50l6.60 6.60M182.97 499.10l6.60 -6.60M190.95 500.50l6.60 6.60M190.95 507.10l6.60 -6.60M198.93 503.70l6.60 6.60M198.93 510.30l6.60 -6.60M206.90 498.70l6.60 6.60M206.90 505.30l6.60 -6.60M214.88 504.20l6.60 6.60M214.88 510.80l6.60 -6.60M222.85 505.70l6.60 6.60M222.85 512.30l6.60 -6.60M230.82 502.00l6.60 6.60M230.82 508.60l6.60 -6.60M238.80 505.00l6.60 6.60M238.80 511.60l6.60 -6.60M246.77 502.50l6.60 6.60M246.77 509.10l6.60 -6.60M254.75 498.70l6.60 6.60M254.75 505.30l6.60 -6.60M262.72 501.20l6.60 6.60M262.72 507.80l6.60 -6.60M270.70 499.20l6.60 6.60M270.70 505.80l6.60 -6.60M278.67 503.70l6.60 6.60M278.67 510.30l6.60 -6.60M286.65 501.20l6.60 6.60M286.65 507.80l6.60 -6.60M294.62 495.00l6.60 6.60M294.62 501.60l6.60 -6.60M302.60 472.60l6.60 6.60M302.60 479.20l6.60 -6.60M310.57 480.00l6.60 6.60M310.57 486.60l6.60 -6.60M318.55 489.50l6.60 6.60M318.55 496.10l6.60 -6.60M326.52 481.30l6.60 6.60M326.52 487.90l6.60 -6.60M334.50 498.70l6.60 6.60M334.50 505.30l6.60 -6.60M342.47 500.00l6.60 6.60M342.47 506.60l6.60 -6.60M350.45 487.50l6.60 6.60M350.45 494.10l6.60 -6.60M374.37 498.70l6.60 6.60M374.37 505.30l6.60 -6.60M382.35 503.00l6.60 6.60M382.35 509.60l6.60 -6.60M390.32 496.20l6.60 6.60M390.32 502.80l6.60 -6.60M398.30 501.70l6.60 6.60M398.30 508.30l6.60 -6.60M406.27 496.90l6.60 6.60M406.27 503.50l6.60 -6.60M414.25 496.90l6.60 6.60M414.25 503.50l6.60 -6.60M422.22 497.90l6.60 6.60M422.22 504.50l6.60 -6.60M430.20 501.20l6.60 6.60M430.20 507.80l6.60 -6.60M438.17 493.70l6.60 6.60M438.17 500.30l6.60 -6.60M446.15 493.70l6.60 6.60M446.15 500.30l6.60 -6.60M454.12 493.00l6.60 6.60M454.12 499.60l6.60 -6.60M462.10 497.00l6.60 6.60M462.10 503.60l6.60 -6.60M470.07 500.70l6.60 6.60M470.07 507.30l6.60 -6.60M478.05 498.70l6.60 6.60M478.05 505.30l6.60 -6.60M486.02 497.00l6.60 6.60M486.02 503.60l6.60 -6.60M494.00 493.70l6.60 6.60M494.00 500.30l6.60 -6.60M501.97 491.30l6.60 6.60M501.97 497.90l6.60 -6.60M509.95 495.50l6.60 6.60M509.95 502.10l6.60 -6.60M517.93 501.70l6.60 6.60M517.93 508.30l6.60 -6.60" stroke="#0000ff" stroke-width="1.05" fill="none"/><path d="M46.50 607.56h4.8M525.60 607.56h-4.8M46.50 606.02h4.8M525.60 606.02h-4.8M46.50 604.49h4.8M525.60 604.49h-4.8M46.50 602.95h4.8M525.60 602.95h-4.8M46.50 601.41h4.8M525.60 601.41h-4.8M46.50 599.88h4.8M525.60 599.88h-4.8M46.50 598.34h4.8M525.60 598.34h-4.8M46.50 595.26h4.8M525.60 595.26h-4.8M46.50 593.72h4.8M525.60 593.72h-4.8M46.50 592.19h4.8M525.60 592.19h-4.8M46.50 590.65h4.8M525.60 590.65h-4.8M46.50 589.11h4.8M525.60 589.11h-4.8M46.50 587.57h4.8M525.60 587.57h-4.8M46.50 586.04h4.8M525.60 586.04h-4.8M46.50 584.50h4.8M525.60 584.50h-4.8M46.50 582.96h4.8M525.60 582.96h-4.8M46.50 579.89h4.8M525.60 579.89h-4.8M46.50 578.35h4.8M525.60 578.35h-4.8M46.50 576.81h4.8M525.60 576.81h-4.8M46.50 575.27h4.8M525.60 575.27h-4.8M46.50 573.74h4.8M525.60 573.74h-4.8M46.50 572.20h4.8M525.60 572.20h-4.8M46.50 570.66h4.8M525.60 570.66h-4.8M46.50 569.12h4.8M525.60 569.12h-4.8M46.50 567.59h4.8M525.60 567.59h-4.8M46.50 564.51h4.8M525.60 564.51h-4.8M46.50 562.97h4.8M525.60 562.97h-4.8M46.50 561.44h4.8M525.60 561.44h-4.8M46.50 559.90h4.8M525.60 559.90h-4.8M46.50 558.36h4.8M525.60 558.36h-4.8M46.50 556.82h4.8M525.60 556.82h-4.8M46.50 555.29h4.8M525.60 555.29h-4.8M46.50 553.75h4.8M525.60 553.75h-4.8M46.50 552.21h4.8M525.60 552.21h-4.8M46.50 549.14h4.8M525.60 549.14h-4.8M46.50 547.60h4.8M525.60 547.60h-4.8M46.50 546.06h4.8M525.60 546.06h-4.8M46.50 544.52h4.8M525.60 544.52h-4.8M46.50 542.99h4.8M525.60 542.99h-4.8M46.50 541.45h4.8M525.60 541.45h-4.8M46.50 539.91h4.8M525.60 539.91h-4.8M46.50 538.38h4.8M525.60 538.38h-4.8M46.50 536.84h4.8M525.60 536.84h-4.8M46.50 533.76h4.8M525.60 533.76h-4.8M46.50 532.22h4.8M525.60 532.22h-4.8M46.50 530.69h4.8M525.60 530.69h-4.8M46.50 529.15h4.8M525.60 529.15h-4.8M46.50 527.61h4.8M525.60 527.61h-4.8M46.50 526.07h4.8M525.60 526.07h-4.8M46.50 524.54h4.8M525.60 524.54h-4.8M46.50 523.00h4.8M525.60 523.00h-4.8M46.50 521.46h4.8M525.60 521.46h-4.8M46.50 518.39h4.8M525.60 518.39h-4.8M46.50 516.85h4.8M525.60 516.85h-4.8" stroke="#c0c0c0" stroke-width="0.9" fill="none"/><path d="M46.50 596.80h9.5M525.60 596.80h-9.5M46.50 581.42h9.5M525.60 581.42h-9.5M46.50 566.05h9.5M525.60 566.05h-9.5M46.50 550.67h9.5M525.60 550.67h-9.5M46.50 535.30h9.5M525.60 535.30h-9.5M46.50 519.92h9.5M525.60 519.92h-9.5" stroke="#b0b0b0" stroke-width="0.9" fill="none"/><path d="M62.60 516.30v2.4M62.60 609.20v-2.4M102.46 516.30v2.4M102.46 609.20v-2.4M142.32 516.30v2.4M142.32 609.20v-2.4M182.18 516.30v2.4M182.18 609.20v-2.4M222.04 516.30v2.4M222.04 609.20v-2.4M261.90 516.30v2.4M261.90 609.20v-2.4M301.76 516.30v2.4M301.76 609.20v-2.4M341.62 516.30v2.4M341.62 609.20v-2.4M381.48 516.30v2.4M381.48 609.20v-2.4M421.34 516.30v2.4M421.34 609.20v-2.4M461.20 516.30v2.4M461.20 609.20v-2.4M501.06 516.30v2.4M501.06 609.20v-2.4" stroke="#888" stroke-width="1" fill="none"/><rect x="46.50" y="516.30" width="479.10" height="92.90" fill="none" stroke="#ababab" stroke-width="1"/><g font-family="&quot;Liberation Sans&quot;, sans-serif" font-weight="bold" font-size="12.0" stroke="#000" stroke-width="0.30"><text x="36.83" y="600.40">2</text><text x="36.83" y="585.02">3</text><text x="36.83" y="569.65">4</text><text x="36.83" y="554.27">5</text><text x="36.83" y="538.90">6</text><text x="36.83" y="523.52">7</text></g><path d="M297.00 517.80V608.70M318.95 517.80V608.70M324.40 517.80V608.70" stroke="#333" stroke-width="1" stroke-dasharray="1 3" fill="none"/><g fill="#ff0000"><circle cx="50.70" cy="593.60" r="3.15"/><circle cx="58.68" cy="591.10" r="3.15"/><circle cx="66.65" cy="595.80" r="3.15"/><circle cx="74.62" cy="595.80" r="3.15"/><circle cx="82.60" cy="591.10" r="3.15"/><circle cx="90.58" cy="592.30" r="3.15"/><circle cx="98.55" cy="594.30" r="3.15"/><circle cx="106.53" cy="588.60" r="3.15"/><circle cx="114.50" cy="592.30" r="3.15"/><circle cx="122.47" cy="590.60" r="3.15"/><circle cx="130.45" cy="583.10" r="3.15"/><circle cx="138.43" cy="586.80" r="3.15"/><circle cx="146.40" cy="596.00" r="3.15"/><circle cx="154.38" cy="589.10" r="3.15"/><circle cx="162.35" cy="588.80" r="3.15"/><circle cx="170.32" cy="595.50" r="3.15"/><circle cx="178.30" cy="596.00" r="3.15"/><circle cx="186.27" cy="599.50" r="3.15"/><circle cx="194.25" cy="593.60" r="3.15"/><circle cx="202.23" cy="591.30" r="3.15"/><circle cx="210.20" cy="593.60" r="3.15"/><circle cx="218.18" cy="589.30" r="3.15"/><circle cx="226.15" cy="600.50" r="3.15"/><circle cx="234.12" cy="597.30" r="3.15"/><circle cx="242.10" cy="597.30" r="3.15"/><circle cx="250.07" cy="603.00" r="3.15"/><circle cx="258.05" cy="602.50" r="3.15"/><circle cx="266.02" cy="603.50" r="3.15"/><circle cx="274.00" cy="603.50" r="3.15"/><circle cx="281.97" cy="605.50" r="3.15"/><circle cx="289.95" cy="598.50" r="3.15"/><circle cx="297.93" cy="576.80" r="3.15"/><circle cx="305.90" cy="526.20" r="3.15"/><circle cx="313.88" cy="556.10" r="3.15"/><circle cx="321.85" cy="586.10" r="3.15"/><circle cx="329.82" cy="588.60" r="3.15"/><circle cx="337.80" cy="590.10" r="3.15"/><circle cx="345.77" cy="601.80" r="3.15"/><circle cx="353.75" cy="602.50" r="3.15"/><circle cx="377.67" cy="602.50" r="3.15"/><circle cx="385.65" cy="606.00" r="3.15"/><circle cx="393.62" cy="599.30" r="3.15"/><circle cx="401.60" cy="603.50" r="3.15"/><circle cx="409.57" cy="600.80" r="3.15"/><circle cx="417.55" cy="600.00" r="3.15"/><circle cx="425.52" cy="599.00" r="3.15"/><circle cx="433.50" cy="602.50" r="3.15"/><circle cx="441.47" cy="603.50" r="3.15"/><circle cx="449.45" cy="602.50" r="3.15"/><circle cx="457.42" cy="607.30" r="3.15"/><circle cx="465.40" cy="603.50" r="3.15"/><circle cx="473.37" cy="601.00" r="3.15"/><circle cx="481.35" cy="595.00" r="3.15"/><circle cx="489.32" cy="586.10" r="3.15"/><circle cx="497.30" cy="594.80" r="3.15"/><circle cx="505.27" cy="596.80" r="3.15"/><circle cx="513.25" cy="601.80" r="3.15"/><circle cx="521.23" cy="599.30" r="3.15"/></g><path d="M47.40 590.30l6.60 6.60M47.40 596.90l6.60 -6.60M55.38 592.20l6.60 6.60M55.38 598.80l6.60 -6.60M63.35 587.30l6.60 6.60M63.35 593.90l6.60 -6.60M71.33 587.30l6.60 6.60M71.33 593.90l6.60 -6.60M79.30 592.20l6.60 6.60M79.30 598.80l6.60 -6.60M87.28 585.30l6.60 6.60M87.28 591.90l6.60 -6.60M95.25 592.70l6.60 6.60M95.25 599.30l6.60 -6.60M103.23 596.00l6.60 6.60M103.23 602.60l6.60 -6.60M111.20 588.50l6.60 6.60M111.20 595.10l6.60 -6.60M119.17 594.20l6.60 6.60M119.17 600.80l6.60 -6.60M127.15 596.00l6.60 6.60M127.15 602.60l6.60 -6.60M135.12 598.50l6.60 6.60M135.12 605.10l6.60 -6.60M143.10 584.00l6.60 6.60M143.10 590.60l6.60 -6.60M151.07 597.20l6.60 6.60M151.07 603.80l6.60 -6.60M159.05 598.50l6.60 6.60M159.05 605.10l6.60 -6.60M167.02 591.70l6.60 6.60M167.02 598.30l6.60 -6.60M175.00 589.30l6.60 6.60M175.00 595.90l6.60 -6.60M182.97 586.00l6.60 6.60M182.97 592.60l6.60 -6.60M190.95 590.30l6.60 6.60M190.95 596.90l6.60 -6.60M198.93 591.70l6.60 6.60M198.93 598.30l6.60 -6.60M206.90 599.70l6.60 6.60M206.90 606.30l6.60 -6.60M214.88 595.20l6.60 6.60M214.88 601.80l6.60 -6.60M222.85 592.70l6.60 6.60M222.85 599.30l6.60 -6.60M230.82 595.70l6.60 6.60M230.82 602.30l6.60 -6.60M238.80 598.50l6.60 6.60M238.80 605.10l6.60 -6.60M246.77 596.00l6.60 6.60M246.77 602.60l6.60 -6.60M254.75 597.20l6.60 6.60M254.75 603.80l6.60 -6.60M262.72 594.20l6.60 6.60M262.72 600.80l6.60 -6.60M270.70 589.80l6.60 6.60M270.70 596.40l6.60 -6.60M278.67 589.80l6.60 6.60M278.67 596.40l6.60 -6.60M286.65 598.50l6.60 6.60M286.65 605.10l6.60 -6.60M294.62 580.80l6.60 6.60M294.62 587.40l6.60 -6.60M302.60 528.70l6.60 6.60M302.60 535.30l6.60 -6.60M310.57 537.90l6.60 6.60M310.57 544.50l6.60 -6.60M318.55 568.60l6.60 6.60M318.55 575.20l6.60 -6.60M326.52 567.80l6.60 6.60M326.52 574.40l6.60 -6.60M334.50 590.30l6.60 6.60M334.50 596.90l6.60 -6.60M342.47 596.00l6.60 6.60M342.47 602.60l6.60 -6.60M350.45 590.30l6.60 6.60M350.45 596.90l6.60 -6.60M374.37 591.70l6.60 6.60M374.37 598.30l6.60 -6.60M382.35 589.30l6.60 6.60M382.35 595.90l6.60 -6.60M390.32 590.30l6.60 6.60M390.32 596.90l6.60 -6.60M398.30 592.70l6.60 6.60M398.30 599.30l6.60 -6.60M406.27 597.20l6.60 6.60M406.27 603.80l6.60 -6.60M414.25 591.70l6.60 6.60M414.25 598.30l6.60 -6.60M422.22 594.50l6.60 6.60M422.22 601.10l6.60 -6.60M430.20 596.00l6.60 6.60M430.20 602.60l6.60 -6.60M438.17 591.70l6.60 6.60M438.17 598.30l6.60 -6.60M446.15 590.30l6.60 6.60M446.15 596.90l6.60 -6.60M454.12 590.30l6.60 6.60M454.12 596.90l6.60 -6.60M462.10 597.20l6.60 6.60M462.10 603.80l6.60 -6.60M470.07 597.70l6.60 6.60M470.07 604.30l6.60 -6.60M478.05 595.50l6.60 6.60M478.05 602.10l6.60 -6.60M486.02 601.50l6.60 6.60M486.02 608.10l6.60 -6.60M494.00 599.70l6.60 6.60M494.00 606.30l6.60 -6.60M501.97 599.20l6.60 6.60M501.97 605.80l6.60 -6.60M509.95 598.50l6.60 6.60M509.95 605.10l6.60 -6.60M517.93 602.70l6.60 6.60M517.93 609.30l6.60 -6.60" stroke="#0000ff" stroke-width="1.05" fill="none"/><path d="M46.50 707.30h4.8M525.60 707.30h-4.8M46.50 701.22h4.8M525.60 701.22h-4.8M46.50 698.18h4.8M525.60 698.18h-4.8M46.50 695.14h4.8M525.60 695.14h-4.8M46.50 689.05h4.8M525.60 689.05h-4.8M46.50 686.01h4.8M525.60 686.01h-4.8M46.50 682.97h4.8M525.60 682.97h-4.8M46.50 676.89h4.8M525.60 676.89h-4.8M46.50 673.85h4.8M525.60 673.85h-4.8M46.50 670.81h4.8M525.60 670.81h-4.8M46.50 664.72h4.8M525.60 664.72h-4.8M46.50 661.68h4.8M525.60 661.68h-4.8M46.50 658.64h4.8M525.60 658.64h-4.8M46.50 652.56h4.8M525.60 652.56h-4.8M46.50 649.51h4.8M525.60 649.51h-4.8M46.50 646.47h4.8M525.60 646.47h-4.8M46.50 640.39h4.8M525.60 640.39h-4.8M46.50 637.35h4.8M525.60 637.35h-4.8M46.50 634.31h4.8M525.60 634.31h-4.8M46.50 628.22h4.8M525.60 628.22h-4.8M46.50 625.18h4.8M525.60 625.18h-4.8M46.50 622.14h4.8M525.60 622.14h-4.8M46.50 616.06h4.8M525.60 616.06h-4.8" stroke="#c0c0c0" stroke-width="0.9" fill="none"/><path d="M46.50 704.26h9.5M525.60 704.26h-9.5M46.50 692.10h9.5M525.60 692.10h-9.5M46.50 679.93h9.5M525.60 679.93h-9.5M46.50 667.76h9.5M525.60 667.76h-9.5M46.50 655.60h9.5M525.60 655.60h-9.5M46.50 643.43h9.5M525.60 643.43h-9.5M46.50 631.27h9.5M525.60 631.27h-9.5M46.50 619.10h9.5M525.60 619.10h-9.5" stroke="#b0b0b0" stroke-width="0.9" fill="none"/><path d="M62.60 615.30v2.4M62.60 708.30v-2.4M102.46 615.30v2.4M102.46 708.30v-2.4M142.32 615.30v2.4M142.32 708.30v-2.4M182.18 615.30v2.4M182.18 708.30v-2.4M222.04 615.30v2.4M222.04 708.30v-2.4M261.90 615.30v2.4M261.90 708.30v-2.4M301.76 615.30v2.4M301.76 708.30v-2.4M341.62 615.30v2.4M341.62 708.30v-2.4M381.48 615.30v2.4M381.48 708.30v-2.4M421.34 615.30v2.4M421.34 708.30v-2.4M461.20 615.30v2.4M461.20 708.30v-2.4M501.06 615.30v2.4M501.06 708.30v-2.4" stroke="#888" stroke-width="1" fill="none"/><rect x="46.50" y="615.30" width="479.10" height="93.00" fill="none" stroke="#ababab" stroke-width="1"/><g font-family="&quot;Liberation Sans&quot;, sans-serif" font-weight="bold" font-size="12.0" stroke="#000" stroke-width="0.30"><text x="26.82 33.49 36.83" y="707.86">0.4</text><text x="26.82 33.49 36.83" y="695.70">0.6</text><text x="26.82 33.49 36.83" y="683.53">0.8</text><text x="33.49 36.83" y="671.36">.0</text><path d="M29.62 671.36L29.62 664.51L27.64 665.74L27.64 664.45L29.71 663.11L31.27 663.11L31.27 671.36Z"/><text x="33.49 36.83" y="659.20">.2</text><path d="M29.62 659.20L29.62 652.34L27.64 653.58L27.64 652.28L29.71 650.94L31.27 650.94L31.27 659.20Z"/><text x="33.49 36.83" y="647.03">.4</text><path d="M29.62 647.03L29.62 640.18L27.64 641.41L27.64 640.12L29.71 638.78L31.27 638.78L31.27 647.03Z"/><text x="33.49 36.83" y="634.87">.6</text><path d="M29.62 634.87L29.62 628.01L27.64 629.25L27.64 627.95L29.71 626.61L31.27 626.61L31.27 634.87Z"/><text x="33.49 36.83" y="622.70">.8</text><path d="M29.62 622.70L29.62 615.84L27.64 617.08L27.64 615.79L29.71 614.44L31.27 614.44L31.27 622.70Z"/></g><path d="M297.00 616.80V707.80M318.95 616.80V707.80M324.40 616.80V707.80" stroke="#333" stroke-width="1" stroke-dasharray="1 3" fill="none"/><g fill="#ff0000"><circle cx="50.70" cy="689.60" r="3.15"/><circle cx="58.68" cy="689.10" r="3.15"/><circle cx="66.65" cy="698.30" r="3.15"/><circle cx="74.62" cy="696.30" r="3.15"/><circle cx="82.60" cy="690.60" r="3.15"/><circle cx="90.58" cy="691.60" r="3.15"/><circle cx="98.55" cy="695.00" r="3.15"/><circle cx="106.53" cy="696.80" r="3.15"/><circle cx="114.50" cy="692.80" r="3.15"/><circle cx="122.47" cy="696.30" r="3.15"/><circle cx="130.45" cy="698.30" r="3.15"/><circle cx="138.43" cy="703.80" r="3.15"/><circle cx="146.40" cy="705.00" r="3.15"/><circle cx="154.38" cy="698.30" r="3.15"/><circle cx="162.35" cy="691.80" r="3.15"/><circle cx="170.32" cy="704.00" r="3.15"/><circle cx="178.30" cy="699.80" r="3.15"/><circle cx="186.27" cy="693.80" r="3.15"/><circle cx="194.25" cy="694.30" r="3.15"/><circle cx="202.23" cy="690.30" r="3.15"/><circle cx="210.20" cy="698.50" r="3.15"/><circle cx="218.18" cy="691.80" r="3.15"/><circle cx="226.15" cy="703.80" r="3.15"/><circle cx="234.12" cy="701.30" r="3.15"/><circle cx="242.10" cy="700.50" r="3.15"/><circle cx="250.07" cy="699.80" r="3.15"/><circle cx="258.05" cy="697.00" r="3.15"/><circle cx="266.02" cy="703.80" r="3.15"/><circle cx="274.00" cy="701.80" r="3.15"/><circle cx="281.97" cy="701.30" r="3.15"/><circle cx="289.95" cy="699.80" r="3.15"/><circle cx="297.93" cy="666.90" r="3.15"/><circle cx="305.90" cy="625.70" r="3.15"/><circle cx="313.88" cy="651.90" r="3.15"/><circle cx="321.85" cy="685.80" r="3.15"/><circle cx="329.82" cy="695.00" r="3.15"/><circle cx="337.80" cy="705.80" r="3.15"/><circle cx="345.77" cy="699.80" r="3.15"/><circle cx="353.75" cy="696.80" r="3.15"/><circle cx="377.67" cy="699.30" r="3.15"/><circle cx="385.65" cy="700.80" r="3.15"/><circle cx="393.62" cy="694.80" r="3.15"/><circle cx="401.60" cy="698.80" r="3.15"/><circle cx="409.57" cy="698.00" r="3.15"/><circle cx="417.55" cy="697.30" r="3.15"/><circle cx="425.52" cy="696.80" r="3.15"/><circle cx="433.50" cy="698.80" r="3.15"/><circle cx="441.47" cy="701.00" r="3.15"/><circle cx="449.45" cy="701.30" r="3.15"/><circle cx="457.42" cy="701.00" r="3.15"/><circle cx="465.40" cy="697.50" r="3.15"/><circle cx="473.37" cy="701.00" r="3.15"/><circle cx="481.35" cy="703.80" r="3.15"/><circle cx="489.32" cy="697.50" r="3.15"/><circle cx="497.30" cy="699.30" r="3.15"/><circle cx="505.27" cy="700.00" r="3.15"/><circle cx="513.25" cy="696.30" r="3.15"/><circle cx="521.23" cy="700.80" r="3.15"/></g><path d="M47.40 699.00l6.60 6.60M47.40 705.60l6.60 -6.60M55.38 695.50l6.60 6.60M55.38 702.10l6.60 -6.60M63.35 689.70l6.60 6.60M63.35 696.30l6.60 -6.60M71.33 688.00l6.60 6.60M71.33 694.60l6.60 -6.60M79.30 695.50l6.60 6.60M79.30 702.10l6.60 -6.60M87.28 695.50l6.60 6.60M87.28 702.10l6.60 -6.60M95.25 690.50l6.60 6.60M95.25 697.10l6.60 -6.60M103.23 690.20l6.60 6.60M103.23 696.80l6.60 -6.60M111.20 696.50l6.60 6.60M111.20 703.10l6.60 -6.60M119.17 696.00l6.60 6.60M119.17 702.60l6.60 -6.60M127.15 689.00l6.60 6.60M127.15 695.60l6.60 -6.60M135.12 685.30l6.60 6.60M135.12 691.90l6.60 -6.60M143.10 681.80l6.60 6.60M143.10 688.40l6.60 -6.60M151.07 691.70l6.60 6.60M151.07 698.30l6.60 -6.60M159.05 697.70l6.60 6.60M159.05 704.30l6.60 -6.60M167.02 687.30l6.60 6.60M167.02 693.90l6.60 -6.60M175.00 692.20l6.60 6.60M175.00 698.80l6.60 -6.60M182.97 698.00l6.60 6.60M182.97 704.60l6.60 -6.60M190.95 694.70l6.60 6.60M190.95 701.30l6.60 -6.60M198.93 693.50l6.60 6.60M198.93 700.10l6.60 -6.60M206.90 696.50l6.60 6.60M206.90 703.10l6.60 -6.60M214.88 694.20l6.60 6.60M214.88 700.80l6.60 -6.60M222.85 696.00l6.60 6.60M222.85 702.60l6.60 -6.60M230.82 696.00l6.60 6.60M230.82 702.60l6.60 -6.60M238.80 697.20l6.60 6.60M238.80 703.80l6.60 -6.60M246.77 697.20l6.60 6.60M246.77 703.80l6.60 -6.60M254.75 700.50l6.60 6.60M254.75 707.10l6.60 -6.60M262.72 689.00l6.60 6.60M262.72 695.60l6.60 -6.60M270.70 695.00l6.60 6.60M270.70 701.60l6.60 -6.60M278.67 695.00l6.60 6.60M278.67 701.60l6.60 -6.60M286.65 691.00l6.60 6.60M286.65 697.60l6.60 -6.60M294.62 691.70l6.60 6.60M294.62 698.30l6.60 -6.60M302.60 664.80l6.60 6.60M302.60 671.40l6.60 -6.60M310.57 659.80l6.60 6.60M310.57 666.40l6.60 -6.60M318.55 671.50l6.60 6.60M318.55 678.10l6.60 -6.60M326.52 688.50l6.60 6.60M326.52 695.10l6.60 -6.60M334.50 683.50l6.60 6.60M334.50 690.10l6.60 -6.60M342.47 694.20l6.60 6.60M342.47 700.80l6.60 -6.60M350.45 697.20l6.60 6.60M350.45 703.80l6.60 -6.60M374.37 693.50l6.60 6.60M374.37 700.10l6.60 -6.60M382.35 694.70l6.60 6.60M382.35 701.30l6.60 -6.60M390.32 700.50l6.60 6.60M390.32 707.10l6.60 -6.60M398.30 697.70l6.60 6.60M398.30 704.30l6.60 -6.60M406.27 697.20l6.60 6.60M406.27 703.80l6.60 -6.60M414.25 693.00l6.60 6.60M414.25 699.60l6.60 -6.60M422.22 692.70l6.60 6.60M422.22 699.30l6.60 -6.60M430.20 691.50l6.60 6.60M430.20 698.10l6.60 -6.60M438.17 697.70l6.60 6.60M438.17 704.30l6.60 -6.60M446.15 691.70l6.60 6.60M446.15 698.30l6.60 -6.60M454.12 694.70l6.60 6.60M454.12 701.30l6.60 -6.60M462.10 694.70l6.60 6.60M462.10 701.30l6.60 -6.60M470.07 692.20l6.60 6.60M470.07 698.80l6.60 -6.60M478.05 691.70l6.60 6.60M478.05 698.30l6.60 -6.60M486.02 694.00l6.60 6.60M486.02 700.60l6.60 -6.60M494.00 700.50l6.60 6.60M494.00 707.10l6.60 -6.60M501.97 692.20l6.60 6.60M501.97 698.80l6.60 -6.60M509.95 697.20l6.60 6.60M509.95 703.80l6.60 -6.60M517.93 701.50l6.60 6.60M517.93 708.10l6.60 -6.60" stroke="#0000ff" stroke-width="1.05" fill="none"/><path d="M46.50 802.25h4.8M525.60 802.25h-4.8M46.50 800.13h4.8M525.60 800.13h-4.8M46.50 798.00h4.8M525.60 798.00h-4.8M46.50 795.87h4.8M525.60 795.87h-4.8M46.50 793.74h4.8M525.60 793.74h-4.8M46.50 791.62h4.8M525.60 791.62h-4.8M46.50 789.49h4.8M525.60 789.49h-4.8M46.50 787.36h4.8M525.60 787.36h-4.8M46.50 785.24h4.8M525.60 785.24h-4.8M46.50 780.98h4.8M525.60 780.98h-4.8M46.50 778.86h4.8M525.60 778.86h-4.8M46.50 776.73h4.8M525.60 776.73h-4.8M46.50 774.60h4.8M525.60 774.60h-4.8M46.50 772.47h4.8M525.60 772.47h-4.8M46.50 770.35h4.8M525.60 770.35h-4.8M46.50 768.22h4.8M525.60 768.22h-4.8M46.50 766.09h4.8M525.60 766.09h-4.8M46.50 763.97h4.8M525.60 763.97h-4.8M46.50 759.71h4.8M525.60 759.71h-4.8M46.50 757.59h4.8M525.60 757.59h-4.8M46.50 755.46h4.8M525.60 755.46h-4.8M46.50 753.33h4.8M525.60 753.33h-4.8M46.50 751.20h4.8M525.60 751.20h-4.8M46.50 749.08h4.8M525.60 749.08h-4.8M46.50 746.95h4.8M525.60 746.95h-4.8M46.50 744.82h4.8M525.60 744.82h-4.8M46.50 742.70h4.8M525.60 742.70h-4.8M46.50 738.44h4.8M525.60 738.44h-4.8M46.50 736.32h4.8M525.60 736.32h-4.8M46.50 734.19h4.8M525.60 734.19h-4.8M46.50 732.06h4.8M525.60 732.06h-4.8M46.50 729.93h4.8M525.60 729.93h-4.8M46.50 727.81h4.8M525.60 727.81h-4.8M46.50 725.68h4.8M525.60 725.68h-4.8M46.50 723.55h4.8M525.60 723.55h-4.8M46.50 721.43h4.8M525.60 721.43h-4.8M46.50 717.17h4.8M525.60 717.17h-4.8M46.50 715.05h4.8M525.60 715.05h-4.8" stroke="#c0c0c0" stroke-width="0.9" fill="none"/><path d="M46.50 804.38h9.5M525.60 804.38h-9.5M46.50 783.11h9.5M525.60 783.11h-9.5M46.50 761.84h9.5M525.60 761.84h-9.5M46.50 740.57h9.5M525.60 740.57h-9.5M46.50 719.30h9.5M525.60 719.30h-9.5" stroke="#b0b0b0" stroke-width="0.9" fill="none"/><path d="M62.60 713.50v2.4M62.60 806.40v-2.4M102.46 713.50v2.4M102.46 806.40v-2.4M142.32 713.50v2.4M142.32 806.40v-2.4M182.18 713.50v2.4M182.18 806.40v-2.4M222.04 713.50v2.4M222.04 806.40v-2.4M261.90 713.50v2.4M261.90 806.40v-2.4M301.76 713.50v2.4M301.76 806.40v-2.4M341.62 713.50v2.4M341.62 806.40v-2.4M381.48 713.50v2.4M381.48 806.40v-2.4M421.34 713.50v2.4M421.34 806.40v-2.4M461.20 713.50v2.4M461.20 806.40v-2.4M501.06 713.50v2.4M501.06 806.40v-2.4" stroke="#888" stroke-width="1" fill="none"/><rect x="46.50" y="713.50" width="479.10" height="92.90" fill="none" stroke="#ababab" stroke-width="1"/><g font-family="&quot;Liberation Sans&quot;, sans-serif" font-weight="bold" font-size="12.0" stroke="#000" stroke-width="0.30"><text x="26.82 33.49" y="806.80">0.</text><path d="M39.63 806.80L39.63 799.94L37.65 801.18L37.65 799.89L39.71 798.54L41.27 798.54L41.27 806.80Z"/><text x="26.82 33.49 36.83" y="786.71">0.2</text><text x="26.82 33.49 36.83" y="765.44">0.3</text><text x="26.82 33.49 36.83" y="744.17">0.4</text><text x="26.82 33.49 36.83" y="722.90">0.5</text></g><path d="M297.00 715.00V805.90M318.95 715.00V805.90M324.40 715.00V805.90" stroke="#333" stroke-width="1" stroke-dasharray="1 3" fill="none"/><g fill="#ff0000"><circle cx="50.70" cy="779.10" r="3.15"/><circle cx="58.68" cy="783.30" r="3.15"/><circle cx="66.65" cy="783.30" r="3.15"/><circle cx="74.62" cy="791.00" r="3.15"/><circle cx="82.60" cy="775.30" r="3.15"/><circle cx="90.58" cy="786.60" r="3.15"/><circle cx="98.55" cy="773.60" r="3.15"/><circle cx="106.53" cy="792.50" r="3.15"/><circle cx="114.50" cy="787.30" r="3.15"/><circle cx="122.47" cy="789.60" r="3.15"/><circle cx="130.45" cy="781.30" r="3.15"/><circle cx="138.43" cy="794.30" r="3.15"/><circle cx="146.40" cy="785.80" r="3.15"/><circle cx="154.38" cy="787.80" r="3.15"/><circle cx="162.35" cy="792.00" r="3.15"/><circle cx="170.32" cy="789.60" r="3.15"/><circle cx="178.30" cy="787.80" r="3.15"/><circle cx="186.27" cy="785.80" r="3.15"/><circle cx="194.25" cy="779.60" r="3.15"/><circle cx="202.23" cy="762.10" r="3.15"/><circle cx="210.20" cy="788.30" r="3.15"/><circle cx="218.18" cy="785.80" r="3.15"/><circle cx="226.15" cy="783.60" r="3.15"/><circle cx="234.12" cy="787.80" r="3.15"/><circle cx="242.10" cy="789.60" r="3.15"/><circle cx="250.07" cy="792.50" r="3.15"/><circle cx="258.05" cy="786.10" r="3.15"/><circle cx="266.02" cy="784.10" r="3.15"/><circle cx="274.00" cy="787.10" r="3.15"/><circle cx="281.97" cy="784.10" r="3.15"/><circle cx="289.95" cy="793.00" r="3.15"/><circle cx="297.93" cy="785.30" r="3.15"/><circle cx="305.90" cy="726.70" r="3.15"/><circle cx="313.88" cy="766.60" r="3.15"/><circle cx="321.85" cy="784.10" r="3.15"/><circle cx="329.82" cy="796.00" r="3.15"/><circle cx="337.80" cy="791.00" r="3.15"/><circle cx="345.77" cy="794.80" r="3.15"/><circle cx="353.75" cy="803.50" r="3.15"/><circle cx="377.67" cy="793.50" r="3.15"/><circle cx="385.65" cy="801.00" r="3.15"/><circle cx="393.62" cy="795.30" r="3.15"/><circle cx="401.60" cy="795.80" r="3.15"/><circle cx="409.57" cy="799.00" r="3.15"/><circle cx="417.55" cy="796.50" r="3.15"/><circle cx="425.52" cy="797.80" r="3.15"/><circle cx="433.50" cy="792.00" r="3.15"/><circle cx="441.47" cy="800.80" r="3.15"/><circle cx="449.45" cy="796.50" r="3.15"/><circle cx="457.42" cy="803.50" r="3.15"/><circle cx="465.40" cy="796.50" r="3.15"/><circle cx="473.37" cy="795.80" r="3.15"/><circle cx="481.35" cy="796.50" r="3.15"/><circle cx="489.32" cy="794.80" r="3.15"/><circle cx="497.30" cy="802.80" r="3.15"/><circle cx="505.27" cy="801.00" r="3.15"/><circle cx="513.25" cy="795.30" r="3.15"/><circle cx="521.23" cy="796.50" r="3.15"/></g><path d="M47.40 784.50l6.60 6.60M47.40 791.10l6.60 -6.60M55.38 782.00l6.60 6.60M55.38 788.60l6.60 -6.60M63.35 786.50l6.60 6.60M63.35 793.10l6.60 -6.60M71.33 764.10l6.60 6.60M71.33 770.70l6.60 -6.60M79.30 788.20l6.60 6.60M79.30 794.80l6.60 -6.60M87.28 773.30l6.60 6.60M87.28 779.90l6.60 -6.60M95.25 784.50l6.60 6.60M95.25 791.10l6.60 -6.60M103.23 775.80l6.60 6.60M103.23 782.40l6.60 -6.60M111.20 777.80l6.60 6.60M111.20 784.40l6.60 -6.60M119.17 782.80l6.60 6.60M119.17 789.40l6.60 -6.60M127.15 786.50l6.60 6.60M127.15 793.10l6.60 -6.60M135.12 777.50l6.60 6.60M135.12 784.10l6.60 -6.60M143.10 779.50l6.60 6.60M143.10 786.10l6.60 -6.60M151.07 776.30l6.60 6.60M151.07 782.90l6.60 -6.60M159.05 771.50l6.60 6.60M159.05 778.10l6.60 -6.60M167.02 789.50l6.60 6.60M167.02 796.10l6.60 -6.60M175.00 787.70l6.60 6.60M175.00 794.30l6.60 -6.60M182.97 781.30l6.60 6.60M182.97 787.90l6.60 -6.60M190.95 779.50l6.60 6.60M190.95 786.10l6.60 -6.60M198.93 783.80l6.60 6.60M198.93 790.40l6.60 -6.60M206.90 792.00l6.60 6.60M206.90 798.60l6.60 -6.60M214.88 776.30l6.60 6.60M214.88 782.90l6.60 -6.60M222.85 792.50l6.60 6.60M222.85 799.10l6.60 -6.60M230.82 786.30l6.60 6.60M230.82 792.90l6.60 -6.60M238.80 786.30l6.60 6.60M238.80 792.90l6.60 -6.60M246.77 790.70l6.60 6.60M246.77 797.30l6.60 -6.60M254.75 796.20l6.60 6.60M254.75 802.80l6.60 -6.60M262.72 794.50l6.60 6.60M262.72 801.10l6.60 -6.60M270.70 790.70l6.60 6.60M270.70 797.30l6.60 -6.60M278.67 785.00l6.60 6.60M278.67 791.60l6.60 -6.60M286.65 790.20l6.60 6.60M286.65 796.80l6.60 -6.60M294.62 768.90l6.60 6.60M294.62 775.50l6.60 -6.60M302.60 720.90l6.60 6.60M302.60 727.50l6.60 -6.60M310.57 747.90l6.60 6.60M310.57 754.50l6.60 -6.60M318.55 780.80l6.60 6.60M318.55 787.40l6.60 -6.60M326.52 779.50l6.60 6.60M326.52 786.10l6.60 -6.60M334.50 796.20l6.60 6.60M334.50 802.80l6.60 -6.60M342.47 794.50l6.60 6.60M342.47 801.10l6.60 -6.60M350.45 785.80l6.60 6.60M350.45 792.40l6.60 -6.60M374.37 792.00l6.60 6.60M374.37 798.60l6.60 -6.60M382.35 784.50l6.60 6.60M382.35 791.10l6.60 -6.60M390.32 792.00l6.60 6.60M390.32 798.60l6.60 -6.60M398.30 794.50l6.60 6.60M398.30 801.10l6.60 -6.60M406.27 788.70l6.60 6.60M406.27 795.30l6.60 -6.60M414.25 787.70l6.60 6.60M414.25 794.30l6.60 -6.60M422.22 780.30l6.60 6.60M422.22 786.90l6.60 -6.60M430.20 794.50l6.60 6.60M430.20 801.10l6.60 -6.60M438.17 792.00l6.60 6.60M438.17 798.60l6.60 -6.60M446.15 797.00l6.60 6.60M446.15 803.60l6.60 -6.60M454.12 796.50l6.60 6.60M454.12 803.10l6.60 -6.60M462.10 800.20l6.60 6.60M462.10 806.80l6.60 -6.60M470.07 788.30l6.60 6.60M470.07 794.90l6.60 -6.60M478.05 790.20l6.60 6.60M478.05 796.80l6.60 -6.60M486.02 792.70l6.60 6.60M486.02 799.30l6.60 -6.60M494.00 795.20l6.60 6.60M494.00 801.80l6.60 -6.60M501.97 790.70l6.60 6.60M501.97 797.30l6.60 -6.60M509.95 800.70l6.60 6.60M509.95 807.30l6.60 -6.60M517.93 800.70l6.60 6.60M517.93 807.30l6.60 -6.60" stroke="#0000ff" stroke-width="1.05" fill="none"/><g font-family="&quot;Liberation Sans&quot;, sans-serif" font-weight="bold" font-size="12.2" stroke="#000" stroke-width="0.30"><text x="60.23 64.29 71.08" y="18.80">:00</text><path d="M50.18 18.80L50.18 11.83L48.17 13.09L48.17 11.77L50.27 10.41L51.86 10.41L51.86 18.80ZM56.29 18.80L56.29 11.83L54.28 13.09L54.28 11.77L56.38 10.41L57.97 10.41L57.97 18.80Z"/><text x="60.23 64.29 71.08" y="821.60">:00</text><path d="M50.18 821.60L50.18 814.63L48.17 815.89L48.17 814.57L50.27 813.21L51.86 813.21L51.86 821.60ZM56.29 821.60L56.29 814.63L54.28 815.89L54.28 814.57L56.38 813.21L57.97 813.21L57.97 821.60Z"/><text x="93.64 100.43 104.49 111.28" y="18.80">2:00</text><path d="M89.71 18.80L89.71 11.83L87.69 13.09L87.69 11.77L89.80 10.41L91.38 10.41L91.38 18.80Z"/><text x="93.64 100.43 104.49 111.28" y="821.60">2:00</text><path d="M89.71 821.60L89.71 814.63L87.69 815.89L87.69 814.57L89.80 813.21L91.38 813.21L91.38 821.60Z"/><text x="133.50 140.29 144.35 151.14" y="18.80">3:00</text><path d="M129.57 18.80L129.57 11.83L127.55 13.09L127.55 11.77L129.66 10.41L131.24 10.41L131.24 18.80Z"/><text x="133.50 140.29 144.35 151.14" y="821.60">3:00</text><path d="M129.57 821.60L129.57 814.63L127.55 815.89L127.55 814.57L129.66 813.21L131.24 813.21L131.24 821.60Z"/><text x="173.36 180.15 184.21 191.00" y="18.80">4:00</text><path d="M169.43 18.80L169.43 11.83L167.41 13.09L167.41 11.77L169.52 10.41L171.10 10.41L171.10 18.80Z"/><text x="173.36 180.15 184.21 191.00" y="821.60">4:00</text><path d="M169.43 821.60L169.43 814.63L167.41 815.89L167.41 814.57L169.52 813.21L171.10 813.21L171.10 821.60Z"/><text x="213.22 220.01 224.07 230.86" y="18.80">5:00</text><path d="M209.29 18.80L209.29 11.83L207.27 13.09L207.27 11.77L209.38 10.41L210.96 10.41L210.96 18.80Z"/><text x="213.22 220.01 224.07 230.86" y="821.60">5:00</text><path d="M209.29 821.60L209.29 814.63L207.27 815.89L207.27 814.57L209.38 813.21L210.96 813.21L210.96 821.60Z"/><text x="253.08 259.87 263.93 270.72" y="18.80">6:00</text><path d="M249.15 18.80L249.15 11.83L247.13 13.09L247.13 11.77L249.24 10.41L250.82 10.41L250.82 18.80Z"/><text x="253.08 259.87 263.93 270.72" y="821.60">6:00</text><path d="M249.15 821.60L249.15 814.63L247.13 815.89L247.13 814.57L249.24 813.21L250.82 813.21L250.82 821.60Z"/><text x="292.94 299.73 303.79 310.58" y="18.80">7:00</text><path d="M289.01 18.80L289.01 11.83L286.99 13.09L286.99 11.77L289.10 10.41L290.68 10.41L290.68 18.80Z"/><text x="292.94 299.73 303.79 310.58" y="821.60">7:00</text><path d="M289.01 821.60L289.01 814.63L286.99 815.89L286.99 814.57L289.10 813.21L290.68 813.21L290.68 821.60Z"/><text x="332.80 339.59 343.65 350.44" y="18.80">8:00</text><path d="M328.87 18.80L328.87 11.83L326.85 13.09L326.85 11.77L328.96 10.41L330.54 10.41L330.54 18.80Z"/><text x="332.80 339.59 343.65 350.44" y="821.60">8:00</text><path d="M328.87 821.60L328.87 814.63L326.85 815.89L326.85 814.57L328.96 813.21L330.54 813.21L330.54 821.60Z"/><text x="372.66 379.45 383.51 390.30" y="18.80">9:00</text><path d="M368.73 18.80L368.73 11.83L366.71 13.09L366.71 11.77L368.82 10.41L370.40 10.41L370.40 18.80Z"/><text x="372.66 379.45 383.51 390.30" y="821.60">9:00</text><path d="M368.73 821.60L368.73 814.63L366.71 815.89L366.71 814.57L368.82 813.21L370.40 813.21L370.40 821.60Z"/><text x="405.74 412.52 419.31 423.37 430.16" y="18.80">20:00</text><text x="405.74 412.52 419.31 423.37 430.16" y="821.60">20:00</text><text x="445.60 459.17 463.23 470.02" y="18.80">2:00</text><path d="M455.23 18.80L455.23 11.83L453.22 13.09L453.22 11.77L455.32 10.41L456.90 10.41L456.90 18.80Z"/><text x="445.60 459.17 463.23 470.02" y="821.60">2:00</text><path d="M455.23 821.60L455.23 814.63L453.22 815.89L453.22 814.57L455.32 813.21L456.90 813.21L456.90 821.60Z"/><text x="485.46 492.24 499.03 503.09 509.88" y="18.80">22:00</text><text x="485.46 492.24 499.03 503.09 509.88" y="821.60">22:00</text></g><g font-family="&quot;Liberation Sans&quot;, sans-serif" font-weight="bold" font-size="12" text-anchor="middle" stroke="#000" stroke-width="0.3"><text x="285.6" y="8.0">Time (UT)</text><text x="285.5" y="834">Time (UT)</text></g><g transform="translate(0 39.10)"><path d="M65.40 -10.5C64.80 -10.6 64.70 -10.0 64.70 -9.0L64.30 -0.9C64.30 0.1 63.80 0.6 63.20 0.5" stroke="#000" stroke-width="1.0" fill="none" stroke-linecap="round"/><text transform="translate(69.10 0) scale(0.82 1)" x="0" y="0" font-family="&quot;Liberation Serif&quot;, serif" font-size="13.2" stroke="#000" stroke-width="0.45">δ</text><text x="74.20" y="0.00" font-family="&quot;Liberation Sans&quot;, sans-serif" font-weight="bold" font-size="12.0" stroke="#000" stroke-width="0.3">B</text><text x="82.60" y="2.60" font-family="&quot;Liberation Sans&quot;, sans-serif" font-weight="bold" font-size="8.6" stroke="#000" stroke-width="0.3">r</text><text x="89.20" y="0.00" font-family="&quot;Liberation Sans&quot;, sans-serif" font-weight="bold" font-size="12.0" stroke="#000" stroke-width="0.3">dA</text></g><text x="130.6" y="39.10" font-family="&quot;Liberation Sans&quot;, sans-serif" font-weight="bold" font-size="12.0" stroke="#000" stroke-width="0.3">Pre-flare 3<tspan font-family="&quot;Liberation Serif&quot;, serif" font-weight="normal" font-size="13" stroke-width="0.15">σ</tspan>:</text><g transform="translate(0 137.90)"><path d="M65.40 -10.5C64.80 -10.6 64.70 -10.0 64.70 -9.0L64.30 -0.9C64.30 0.1 63.80 0.6 63.20 0.5" stroke="#000" stroke-width="1.0" fill="none" stroke-linecap="round"/><text transform="translate(69.10 0) scale(0.82 1)" x="0" y="0" font-family="&quot;Liberation Serif&quot;, serif" font-size="13.2" stroke="#000" stroke-width="0.45">δ</text><text x="74.20" y="0.00" font-family="&quot;Liberation Sans&quot;, sans-serif" font-weight="bold" font-size="12.0" stroke="#000" stroke-width="0.3">B</text><path d="M85.70 -2.80V3.30M90.20 -2.80V3.30" stroke="#666" stroke-width="1.0" fill="none"/><text x="95.60" y="0.00" font-family="&quot;Liberation Sans&quot;, sans-serif" font-weight="bold" font-size="12.0" stroke="#000" stroke-width="0.3">dA</text></g><text x="130.6" y="137.90" font-family="&quot;Liberation Sans&quot;, sans-serif" font-weight="bold" font-size="12.0" stroke="#000" stroke-width="0.3">Pre-flare 3<tspan font-family="&quot;Liberation Serif&quot;, serif" font-weight="normal" font-size="13" stroke-width="0.15">σ</tspan>:</text><g transform="translate(0 236.10)"><path d="M65.40 -10.5C64.80 -10.6 64.70 -10.0 64.70 -9.0L64.30 -0.9C64.30 0.1 63.80 0.6 63.20 0.5" stroke="#000" stroke-width="1.0" fill="none" stroke-linecap="round"/><text transform="translate(69.10 0) scale(0.82 1)" x="0" y="0" font-family="&quot;Liberation Serif&quot;, serif" font-size="13.2" stroke="#000" stroke-width="0.45">δ</text><text x="74.20" y="0.00" font-family="&quot;Liberation Sans&quot;, sans-serif" font-weight="bold" font-size="12.0" stroke="#000" stroke-width="0.3">B</text><path d="M86.05 -2.60V2.80M83.90 2.80H88.20" stroke="#666" stroke-width="1.0" fill="none"/><text x="91.70" y="0.00" font-family="&quot;Liberation Sans&quot;, sans-serif" font-weight="bold" font-size="12.0" stroke="#000" stroke-width="0.3">dA</text></g><text x="130.6" y="236.10" font-family="&quot;Liberation Sans&quot;, sans-serif" font-weight="bold" font-size="12.0" stroke="#000" stroke-width="0.3">Pre-flare 3<tspan font-family="&quot;Liberation Serif&quot;, serif" font-weight="normal" font-size="13" stroke-width="0.15">σ</tspan>:</text><g transform="translate(0 334.90)"><text transform="translate(62.55 0) scale(0.82 1)" x="0" y="0" font-family="&quot;Liberation Serif&quot;, serif" font-size="13.2" stroke="#000" stroke-width="0.45">δ</text><text x="67.80" y="0.00" font-family="&quot;Liberation Sans&quot;, sans-serif" font-weight="bold" font-size="12.0" stroke="#000" stroke-width="0.3">F</text><text x="76.20" y="2.60" font-family="&quot;Liberation Sans&quot;, sans-serif" font-weight="bold" font-size="8.6" stroke="#000" stroke-width="0.3">r</text></g><text x="130.6" y="334.90" font-family="&quot;Liberation Sans&quot;, sans-serif" font-weight="bold" font-size="12.0" stroke="#000" stroke-width="0.3">Pre-flare 3<tspan font-family="&quot;Liberation Serif&quot;, serif" font-weight="normal" font-size="13" stroke-width="0.15">σ</tspan>:</text><g transform="translate(0 433.60)"><text transform="translate(62.55 0) scale(0.82 1)" x="0" y="0" font-family="&quot;Liberation Serif&quot;, serif" font-size="13.2" stroke="#000" stroke-width="0.45">δ</text><text x="67.80" y="0.00" font-family="&quot;Liberation Sans&quot;, sans-serif" font-weight="bold" font-size="12.0" stroke="#000" stroke-width="0.3">F</text><path d="M78.30 -4.80V3.00M82.30 -4.80V3.00" stroke="#666" stroke-width="1.0" fill="none"/></g><text x="130.6" y="433.60" font-family="&quot;Liberation Sans&quot;, sans-serif" font-weight="bold" font-size="12.0" stroke="#000" stroke-width="0.3">Pre-flare 3<tspan font-family="&quot;Liberation Serif&quot;, serif" font-weight="normal" font-size="13" stroke-width="0.15">σ</tspan>:</text><g transform="translate(0 531.90)"><text transform="translate(62.55 0) scale(0.82 1)" x="0" y="0" font-family="&quot;Liberation Serif&quot;, serif" font-size="13.2" stroke="#000" stroke-width="0.45">δ</text><text x="67.80" y="0.00" font-family="&quot;Liberation Sans&quot;, sans-serif" font-weight="bold" font-size="12.0" stroke="#000" stroke-width="0.3">F</text><path d="M78.30 -2.60V2.80M75.80 2.80H80.80" stroke="#666" stroke-width="1.0" fill="none"/></g><text x="130.6" y="531.90" font-family="&quot;Liberation Sans&quot;, sans-serif" font-weight="bold" font-size="12.0" stroke="#000" stroke-width="0.3">Pre-flare 3<tspan font-family="&quot;Liberation Serif&quot;, serif" font-weight="normal" font-size="13" stroke-width="0.15">σ</tspan>:</text><g transform="translate(0 630.90)"><path d="M65.40 -10.5C64.80 -10.6 64.70 -10.0 64.70 -9.0L64.30 -0.9C64.30 0.1 63.80 0.6 63.20 0.5" stroke="#000" stroke-width="1.0" fill="none" stroke-linecap="round"/><text transform="translate(69.10 0) scale(0.82 1)" x="0" y="0" font-family="&quot;Liberation Serif&quot;, serif" font-size="13.2" stroke="#000" stroke-width="0.45">δ</text><text x="74.70" y="0.00" font-family="&quot;Liberation Sans&quot;, sans-serif" font-weight="bold" font-size="12.0" stroke="#000" stroke-width="0.3">S</text><text x="82.60" y="2.60" font-family="&quot;Liberation Sans&quot;, sans-serif" font-weight="bold" font-size="8.6" stroke="#000" stroke-width="0.3">h</text><text x="90.70" y="0.00" font-family="&quot;Liberation Sans&quot;, sans-serif" font-weight="bold" font-size="12.0" stroke="#000" stroke-width="0.3">dA</text></g><text x="130.6" y="630.90" font-family="&quot;Liberation Sans&quot;, sans-serif" font-weight="bold" font-size="12.0" stroke="#000" stroke-width="0.3">Pre-flare 3<tspan font-family="&quot;Liberation Serif&quot;, serif" font-weight="normal" font-size="13" stroke-width="0.15">σ</tspan>:</text><g transform="translate(0 729.10)"><path d="M65.40 -10.5C64.80 -10.6 64.70 -10.0 64.70 -9.0L64.30 -0.9C64.30 0.1 63.80 0.6 63.20 0.5" stroke="#000" stroke-width="1.0" fill="none" stroke-linecap="round"/><text transform="translate(69.10 0) scale(0.82 1)" x="0" y="0" font-family="&quot;Liberation Serif&quot;, serif" font-size="13.2" stroke="#000" stroke-width="0.45">δ</text><text x="74.70" y="0.00" font-family="&quot;Liberation Sans&quot;, sans-serif" font-weight="bold" font-size="12.0" stroke="#000" stroke-width="0.3">S</text><text x="82.40" y="2.60" font-family="&quot;Liberation Sans&quot;, sans-serif" font-weight="bold" font-size="8.6" stroke="#000" stroke-width="0.3">v</text><text x="90.00" y="0.00" font-family="&quot;Liberation Sans&quot;, sans-serif" font-weight="bold" font-size="12.0" stroke="#000" stroke-width="0.3">dA</text></g><text x="130.6" y="729.10" font-family="&quot;Liberation Sans&quot;, sans-serif" font-weight="bold" font-size="12.0" stroke="#000" stroke-width="0.3">Pre-flare 3<tspan font-family="&quot;Liberation Serif&quot;, serif" font-weight="normal" font-size="13" stroke-width="0.15">σ</tspan>:</text><path d="M207 33.20h6M210 33.20V38.30M207 38.30h6" stroke="#ff3030" stroke-width="1.1" fill="none"/><path d="M215 32.30h6M218 32.30V39.30M215 39.30h6" stroke="#3030ff" stroke-width="1.1" fill="none"/><path d="M207 132.50h6M210 132.50V136.10M207 136.10h6" stroke="#ff3030" stroke-width="1.1" fill="none"/><path d="M215 132.70h6M218 132.70V136.00M215 136.00h6" stroke="#3030ff" stroke-width="1.1" fill="none"/><path d="M207 231.30h6M210 231.30V234.30M207 234.30h6" stroke="#ff3030" stroke-width="1.1" fill="none"/><path d="M215 231.50h6M218 231.50V234.50M215 234.50h6" stroke="#3030ff" stroke-width="1.1" fill="none"/><path d="M207 330.30h6M210 330.30V333.00M207 333.00h6" stroke="#ff3030" stroke-width="1.1" fill="none"/><path d="M215 329.70h6M218 329.70V333.30M215 333.30h6" stroke="#3030ff" stroke-width="1.1" fill="none"/><path d="M207 428.70h6M210 428.70V431.70M207 431.70h6" stroke="#ff3030" stroke-width="1.1" fill="none"/><path d="M215 428.70h6M218 428.70V431.70M215 431.70h6" stroke="#3030ff" stroke-width="1.1" fill="none"/><path d="M207 527.30h6M210 527.30V530.30M207 530.30h6" stroke="#ff3030" stroke-width="1.1" fill="none"/><path d="M215 527.30h6M218 527.30V530.30M215 530.30h6" stroke="#3030ff" stroke-width="1.1" fill="none"/><path d="M207 626.00h6M210 626.00V628.90M207 628.90h6" stroke="#ff3030" stroke-width="1.1" fill="none"/><path d="M215 626.00h6M218 626.00V628.90M215 628.90h6" stroke="#3030ff" stroke-width="1.1" fill="none"/><path d="M207 723.90h6M210 723.90V728.00M207 728.00h6" stroke="#ff3030" stroke-width="1.1" fill="none"/><path d="M215 723.70h6M218 723.70V727.80M215 727.80h6" stroke="#3030ff" stroke-width="1.1" fill="none"/><g transform="translate(11.30 104.80) rotate(-90)"><path d="M1.20 -10.5C0.60 -10.6 0.50 -10.0 0.50 -9.0L0.10 -0.9C0.10 0.1 -0.40 0.6 -1.00 0.5" stroke="#000" stroke-width="1.0" fill="none" stroke-linecap="round"/><text transform="translate(4.60 0) scale(0.82 1)" x="0" y="0" font-family="&quot;Liberation Serif&quot;, serif" font-size="13.2" stroke="#000" stroke-width="0.45">δ</text><text x="10.90" y="0.00" font-family="&quot;Liberation Sans&quot;, sans-serif" font-weight="bold" font-size="12.0" stroke="#000" stroke-width="0.3">B</text><text x="18.50" y="3.30" font-family="&quot;Liberation Sans&quot;, sans-serif" font-weight="bold" font-size="8.6" stroke="#000" stroke-width="0.3">r</text><g font-family="&quot;Liberation Sans&quot;, sans-serif" font-weight="bold" font-size="11.85" stroke="#000" stroke-width="0.3"><text x="24.30 34.84" y="0.00">(0</text><path d="M31.01 0.00L31.01 -6.77L29.06 -5.55L29.06 -6.83L31.10 -8.15L32.64 -8.15L32.64 0.00Z"/><text x="41.43" y="-5.4" font-size="7.80">22</text><text x="53.40" y="0">Mx)</text></g></g><g transform="translate(17.80 207.40) rotate(-90)"><path d="M1.20 -10.5C0.60 -10.6 0.50 -10.0 0.50 -9.0L0.10 -0.9C0.10 0.1 -0.40 0.6 -1.00 0.5" stroke="#000" stroke-width="1.0" fill="none" stroke-linecap="round"/><text transform="translate(4.20 0) scale(0.82 1)" x="0" y="0" font-family="&quot;Liberation Serif&quot;, serif" font-size="13.2" stroke="#000" stroke-width="0.45">δ</text><text x="11.20" y="0.00" font-family="&quot;Liberation Sans&quot;, sans-serif" font-weight="bold" font-size="12.0" stroke="#000" stroke-width="0.3">B</text><path d="M21.10 -5.00V3.50M25.50 -5.00V3.50" stroke="#666" stroke-width="1.0" fill="none"/><g font-family="&quot;Liberation Sans&quot;, sans-serif" font-weight="bold" font-size="11.85" stroke="#000" stroke-width="0.3"><text x="34.50 45.04" y="0.00">(0</text><path d="M41.21 0.00L41.21 -6.77L39.26 -5.55L39.26 -6.83L41.30 -8.15L42.84 -8.15L42.84 0.00Z"/><text x="51.63" y="-5.4" font-size="7.80">22</text><text x="63.60" y="0">Mx)</text></g></g><g transform="translate(17.80 305.40) rotate(-90)"><path d="M1.20 -10.5C0.60 -10.6 0.50 -10.0 0.50 -9.0L0.10 -0.9C0.10 0.1 -0.40 0.6 -1.00 0.5" stroke="#000" stroke-width="1.0" fill="none" stroke-linecap="round"/><text transform="translate(4.20 0) scale(0.82 1)" x="0" y="0" font-family="&quot;Liberation Serif&quot;, serif" font-size="13.2" stroke="#000" stroke-width="0.45">δ</text><text x="11.20" y="0.00" font-family="&quot;Liberation Sans&quot;, sans-serif" font-weight="bold" font-size="12.0" stroke="#000" stroke-width="0.3">B</text><path d="M22.55 -1.60V3.10M20.80 3.10H24.30" stroke="#666" stroke-width="1.0" fill="none"/><g font-family="&quot;Liberation Sans&quot;, sans-serif" font-weight="bold" font-size="11.85" stroke="#000" stroke-width="0.3"><text x="31.40 41.94" y="0.00">(0</text><path d="M38.11 0.00L38.11 -6.77L36.16 -5.55L36.16 -6.83L38.20 -8.15L39.74 -8.15L39.74 0.00Z"/><text x="48.53" y="-5.4" font-size="7.80">22</text><text x="60.50" y="0">Mx)</text></g></g><g transform="translate(21.30 403.00) rotate(-90)"><text transform="translate(-0.40 0) scale(0.82 1)" x="0" y="0" font-family="&quot;Liberation Serif&quot;, serif" font-size="13.2" stroke="#000" stroke-width="0.45">δ</text><text x="5.50" y="0.00" font-family="&quot;Liberation Sans&quot;, sans-serif" font-weight="bold" font-size="12.0" stroke="#000" stroke-width="0.3">F</text><text x="12.80" y="3.30" font-family="&quot;Liberation Sans&quot;, sans-serif" font-weight="bold" font-size="8.6" stroke="#000" stroke-width="0.3">r</text><g font-family="&quot;Liberation Sans&quot;, sans-serif" font-weight="bold" font-size="11.85" stroke="#000" stroke-width="0.3"><text x="21.90 32.44" y="0.00">(0</text><path d="M28.61 0.00L28.61 -6.77L26.66 -5.55L26.66 -6.83L28.70 -8.15L30.24 -8.15L30.24 0.00Z"/><text x="39.03" y="-5.4" font-size="7.80">22</text><text x="51.00" y="0">dyn)</text></g></g><g transform="translate(28.20 504.20) rotate(-90)"><text transform="translate(-0.40 0) scale(0.82 1)" x="0" y="0" font-family="&quot;Liberation Serif&quot;, serif" font-size="13.2" stroke="#000" stroke-width="0.45">δ</text><text x="5.40" y="0.00" font-family="&quot;Liberation Sans&quot;, sans-serif" font-weight="bold" font-size="12.0" stroke="#000" stroke-width="0.3">F</text><path d="M14.90 -5.00V3.50M19.40 -5.00V3.50" stroke="#666" stroke-width="1.0" fill="none"/><g font-family="&quot;Liberation Sans&quot;, sans-serif" font-weight="bold" font-size="11.85" stroke="#000" stroke-width="0.3"><text x="28.60 39.14" y="0.00">(0</text><path d="M35.31 0.00L35.31 -6.77L33.36 -5.55L33.36 -6.83L35.40 -8.15L36.94 -8.15L36.94 0.00Z"/><text x="45.73" y="-5.4" font-size="7.80">22</text><text x="57.70" y="0">dyn)</text></g></g><g transform="translate(28.20 600.90) rotate(-90)"><text transform="translate(-0.40 0) scale(0.82 1)" x="0" y="0" font-family="&quot;Liberation Serif&quot;, serif" font-size="13.2" stroke="#000" stroke-width="0.45">δ</text><text x="6.10" y="0.00" font-family="&quot;Liberation Sans&quot;, sans-serif" font-weight="bold" font-size="12.0" stroke="#000" stroke-width="0.3">F</text><path d="M15.15 -2.60V2.90M13.20 2.90H17.10" stroke="#666" stroke-width="1.0" fill="none"/><g font-family="&quot;Liberation Sans&quot;, sans-serif" font-weight="bold" font-size="11.85" stroke="#000" stroke-width="0.3"><text x="23.80 34.34" y="0.00">(0</text><path d="M30.51 0.00L30.51 -6.77L28.56 -5.55L28.56 -6.83L30.60 -8.15L32.14 -8.15L32.14 0.00Z"/><text x="40.93" y="-5.4" font-size="7.80">22</text><text x="52.90" y="0">dyn)</text></g></g><g transform="translate(17.80 697.80) rotate(-90)"><path d="M1.20 -10.5C0.60 -10.6 0.50 -10.0 0.50 -9.0L0.10 -0.9C0.10 0.1 -0.40 0.6 -1.00 0.5" stroke="#000" stroke-width="1.0" fill="none" stroke-linecap="round"/><text transform="translate(4.60 0) scale(0.82 1)" x="0" y="0" font-family="&quot;Liberation Serif&quot;, serif" font-size="13.2" stroke="#000" stroke-width="0.45">δ</text><text x="10.30" y="0.00" font-family="&quot;Liberation Sans&quot;, sans-serif" font-weight="bold" font-size="12.0" stroke="#000" stroke-width="0.3">S</text><text x="18.00" y="3.30" font-family="&quot;Liberation Sans&quot;, sans-serif" font-weight="bold" font-size="8.6" stroke="#000" stroke-width="0.3">h</text><g font-family="&quot;Liberation Sans&quot;, sans-serif" font-weight="bold" font-size="11.85" stroke="#000" stroke-width="0.3"><text x="29.50 40.04" y="0.00">(0</text><path d="M36.21 0.00L36.21 -6.77L34.26 -5.55L34.26 -6.83L36.30 -8.15L37.84 -8.15L37.84 0.00Z"/><text x="46.63" y="-5.4" font-size="7.80">22</text><text x="58.60" y="0">Mx)</text></g></g><g transform="translate(17.80 797.00) rotate(-90)"><path d="M1.20 -10.5C0.60 -10.6 0.50 -10.0 0.50 -9.0L0.10 -0.9C0.10 0.1 -0.40 0.6 -1.00 0.5" stroke="#000" stroke-width="1.0" fill="none" stroke-linecap="round"/><text transform="translate(4.40 0) scale(0.82 1)" x="0" y="0" font-family="&quot;Liberation Serif&quot;, serif" font-size="13.2" stroke="#000" stroke-width="0.45">δ</text><text x="10.00" y="0.00" font-family="&quot;Liberation Sans&quot;, sans-serif" font-weight="bold" font-size="12.0" stroke="#000" stroke-width="0.3">S</text><text x="17.30" y="3.30" font-family="&quot;Liberation Sans&quot;, sans-serif" font-weight="bold" font-size="8.6" stroke="#000" stroke-width="0.3">v</text><g font-family="&quot;Liberation Sans&quot;, sans-serif" font-weight="bold" font-size="11.85" stroke="#000" stroke-width="0.3"><text x="28.40 38.94" y="0.00">(0</text><path d="M35.11 0.00L35.11 -6.77L33.16 -5.55L33.16 -6.83L35.20 -8.15L36.74 -8.15L36.74 0.00Z"/><text x="45.53" y="-5.4" font-size="7.80">22</text><text x="57.50" y="0">Mx)</text></g></g></svg></body></html>
